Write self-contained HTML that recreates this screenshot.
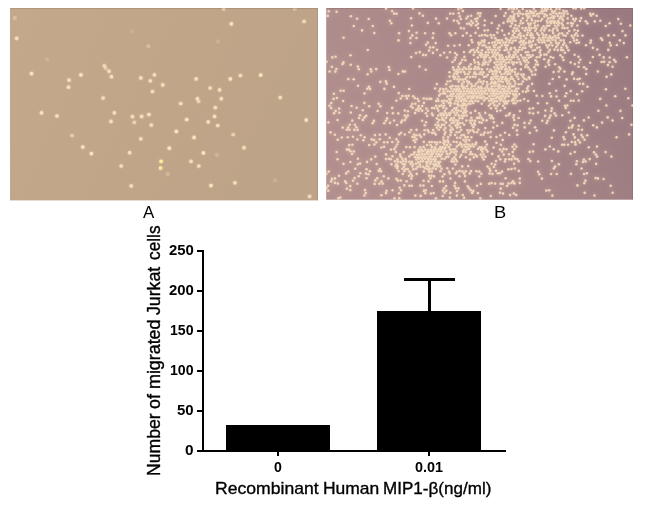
<!DOCTYPE html>
<html><head><meta charset="utf-8"><title>Figure</title>
<style>
html,body{margin:0;padding:0;background:#fff;}
body{width:645px;height:506px;position:relative;overflow:hidden;font-family:"Liberation Sans",Arial,sans-serif;color:#000;}
.abs{position:absolute;}
.w{position:absolute;white-space:nowrap;line-height:1;transform-origin:0 0;-webkit-text-stroke:0.35px #000;}
.b{font-weight:bold;-webkit-text-stroke:0;}
.p{-webkit-text-stroke:0;}
.k{position:absolute;background:#000;}
#yl{position:absolute;left:0;top:480px;width:300px;height:200px;transform-origin:0 0;transform:rotate(-90deg);}
</style></head><body>
<svg class="abs" style="left:0;top:0" width="645" height="506" viewBox="0 0 645 506">
<defs>
<linearGradient id="ga" x1="0" y1="0" x2="1" y2="0.3"><stop offset="0" stop-color="#c4a88c"/><stop offset="1" stop-color="#bda387"/></linearGradient>
<linearGradient id="gb" x1="0" y1="0.6" x2="1" y2="0.3"><stop offset="0" stop-color="#b28f8e"/><stop offset="0.5" stop-color="#a88688"/><stop offset="1" stop-color="#9a7a80"/></linearGradient>
<filter id="fa" x="-5%" y="-5%" width="110%" height="110%"><feGaussianBlur stdDeviation="0.7"/></filter>
<filter id="fb" x="-5%" y="-5%" width="110%" height="110%"><feGaussianBlur stdDeviation="0.75"/></filter>
<filter id="fh" x="-5%" y="-5%" width="110%" height="110%"><feGaussianBlur stdDeviation="2"/></filter>
<clipPath id="ca"><rect x="10" y="8" width="308" height="192"/></clipPath>
<clipPath id="cb"><rect x="326" y="8" width="307" height="192"/></clipPath>
</defs>
<rect x="10" y="8" width="308" height="192.4" fill="url(#ga)"/>
<g clip-path="url(#ca)"><g filter="url(#fa)"><circle cx="14.8" cy="18" r="2.2" fill="#f9e4bc" opacity="0.35"/><circle cx="16.7" cy="38.3" r="3" fill="#f9e4bc" opacity="0.14"/><circle cx="16.7" cy="38.3" r="1.85" fill="#f9e4bc" opacity="0.9"/><circle cx="31.5" cy="73.6" r="3" fill="#f9e4bc" opacity="0.16"/><circle cx="31.5" cy="73.6" r="1.85" fill="#f9e4bc" opacity="1"/><circle cx="47" cy="59.3" r="2.2" fill="#f9e4bc" opacity="0.2"/><circle cx="80.9" cy="74.8" r="3" fill="#f9e4bc" opacity="0.16"/><circle cx="80.9" cy="74.8" r="1.85" fill="#f9e4bc" opacity="1"/><circle cx="69" cy="80.1" r="3" fill="#f9e4bc" opacity="0.14"/><circle cx="69" cy="80.1" r="1.85" fill="#f9e4bc" opacity="0.9"/><circle cx="68.5" cy="87.2" r="3" fill="#f9e4bc" opacity="0.14"/><circle cx="68.5" cy="87.2" r="1.85" fill="#f9e4bc" opacity="0.9"/><circle cx="104.3" cy="65.8" r="3" fill="#f9e4bc" opacity="0.13"/><circle cx="104.3" cy="65.8" r="1.85" fill="#f9e4bc" opacity="0.8"/><circle cx="105.6" cy="68" r="3" fill="#f9e4bc" opacity="0.1"/><circle cx="105.6" cy="68" r="1.85" fill="#f9e4bc" opacity="0.6"/><circle cx="109" cy="71.2" r="3" fill="#f9e4bc" opacity="0.14"/><circle cx="109" cy="71.2" r="1.85" fill="#f9e4bc" opacity="0.9"/><circle cx="111.4" cy="76.7" r="3" fill="#f9e4bc" opacity="0.14"/><circle cx="111.4" cy="76.7" r="1.85" fill="#f9e4bc" opacity="0.9"/><circle cx="103.1" cy="98" r="3" fill="#f9e4bc" opacity="0.14"/><circle cx="103.1" cy="98" r="1.85" fill="#f9e4bc" opacity="0.9"/><circle cx="140.8" cy="77.9" r="3" fill="#f9e4bc" opacity="0.14"/><circle cx="140.8" cy="77.9" r="1.85" fill="#f9e4bc" opacity="0.9"/><circle cx="150.3" cy="80.8" r="3" fill="#f9e4bc" opacity="0.14"/><circle cx="150.3" cy="80.8" r="1.85" fill="#f9e4bc" opacity="0.9"/><circle cx="154.4" cy="74.8" r="3" fill="#f9e4bc" opacity="0.14"/><circle cx="154.4" cy="74.8" r="1.85" fill="#f9e4bc" opacity="0.9"/><circle cx="152.5" cy="91.5" r="3" fill="#f9e4bc" opacity="0.14"/><circle cx="152.5" cy="91.5" r="1.85" fill="#f9e4bc" opacity="0.9"/><circle cx="162.7" cy="84.9" r="3" fill="#f9e4bc" opacity="0.14"/><circle cx="162.7" cy="84.9" r="1.85" fill="#f9e4bc" opacity="0.9"/><circle cx="148.4" cy="46.2" r="2.2" fill="#f9e4bc" opacity="0.35"/><circle cx="131.7" cy="31.2" r="2.2" fill="#f9e4bc" opacity="0.15"/><circle cx="231.3" cy="23.8" r="3" fill="#f9e4bc" opacity="0.16"/><circle cx="231.3" cy="23.8" r="1.85" fill="#f9e4bc" opacity="1"/><circle cx="304.1" cy="21.4" r="3" fill="#f9e4bc" opacity="0.13"/><circle cx="304.1" cy="21.4" r="1.85" fill="#f9e4bc" opacity="0.8"/><circle cx="223.7" cy="8.7" r="3" fill="#f9e4bc" opacity="0.11"/><circle cx="223.7" cy="8.7" r="1.85" fill="#f9e4bc" opacity="0.7"/><circle cx="294.8" cy="8.7" r="2.2" fill="#f9e4bc" opacity="0.4"/><circle cx="196.2" cy="78.9" r="3" fill="#f9e4bc" opacity="0.14"/><circle cx="196.2" cy="78.9" r="1.85" fill="#f9e4bc" opacity="0.9"/><circle cx="210.1" cy="88" r="3" fill="#f9e4bc" opacity="0.14"/><circle cx="210.1" cy="88" r="1.85" fill="#f9e4bc" opacity="0.9"/><circle cx="219.6" cy="89.9" r="3" fill="#f9e4bc" opacity="0.14"/><circle cx="219.6" cy="89.9" r="1.85" fill="#f9e4bc" opacity="0.9"/><circle cx="230.3" cy="78.9" r="3" fill="#f9e4bc" opacity="0.16"/><circle cx="230.3" cy="78.9" r="1.85" fill="#f9e4bc" opacity="1"/><circle cx="240.4" cy="75.5" r="3" fill="#f9e4bc" opacity="0.14"/><circle cx="240.4" cy="75.5" r="1.85" fill="#f9e4bc" opacity="0.9"/><circle cx="260.7" cy="75.1" r="3" fill="#f9e4bc" opacity="0.16"/><circle cx="260.7" cy="75.1" r="1.85" fill="#f9e4bc" opacity="1"/><circle cx="280.2" cy="97.5" r="3" fill="#f9e4bc" opacity="0.14"/><circle cx="280.2" cy="97.5" r="1.85" fill="#f9e4bc" opacity="0.9"/><circle cx="221.3" cy="98.7" r="3" fill="#f9e4bc" opacity="0.14"/><circle cx="221.3" cy="98.7" r="1.85" fill="#f9e4bc" opacity="0.9"/><circle cx="197.4" cy="98.7" r="3" fill="#f9e4bc" opacity="0.14"/><circle cx="197.4" cy="98.7" r="1.85" fill="#f9e4bc" opacity="0.9"/><circle cx="198.6" cy="101.5" r="3" fill="#f9e4bc" opacity="0.11"/><circle cx="198.6" cy="101.5" r="1.85" fill="#f9e4bc" opacity="0.7"/><circle cx="180.7" cy="103.5" r="3" fill="#f9e4bc" opacity="0.14"/><circle cx="180.7" cy="103.5" r="1.85" fill="#f9e4bc" opacity="0.9"/><circle cx="217.7" cy="41.4" r="2.2" fill="#f9e4bc" opacity="0.2"/><circle cx="41.5" cy="112.8" r="3" fill="#f9e4bc" opacity="0.16"/><circle cx="41.5" cy="112.8" r="1.85" fill="#f9e4bc" opacity="1"/><circle cx="57" cy="115.9" r="3" fill="#f9e4bc" opacity="0.14"/><circle cx="57" cy="115.9" r="1.85" fill="#f9e4bc" opacity="0.9"/><circle cx="72.1" cy="135.5" r="3" fill="#f9e4bc" opacity="0.1"/><circle cx="72.1" cy="135.5" r="1.85" fill="#f9e4bc" opacity="0.6"/><circle cx="82.8" cy="147" r="3" fill="#f9e4bc" opacity="0.16"/><circle cx="82.8" cy="147" r="1.85" fill="#f9e4bc" opacity="1"/><circle cx="91.4" cy="153.6" r="3" fill="#f9e4bc" opacity="0.16"/><circle cx="91.4" cy="153.6" r="1.85" fill="#f9e4bc" opacity="1"/><circle cx="114.3" cy="112.8" r="3" fill="#f9e4bc" opacity="0.14"/><circle cx="114.3" cy="112.8" r="1.85" fill="#f9e4bc" opacity="0.9"/><circle cx="111" cy="121.4" r="3" fill="#f9e4bc" opacity="0.14"/><circle cx="111" cy="121.4" r="1.85" fill="#f9e4bc" opacity="0.9"/><circle cx="132.4" cy="116.6" r="3" fill="#f9e4bc" opacity="0.14"/><circle cx="132.4" cy="116.6" r="1.85" fill="#f9e4bc" opacity="0.9"/><circle cx="134.3" cy="122.4" r="3" fill="#f9e4bc" opacity="0.11"/><circle cx="134.3" cy="122.4" r="1.85" fill="#f9e4bc" opacity="0.7"/><circle cx="141.7" cy="116.4" r="3" fill="#f9e4bc" opacity="0.14"/><circle cx="141.7" cy="116.4" r="1.85" fill="#f9e4bc" opacity="0.9"/><circle cx="148.9" cy="114.5" r="3" fill="#f9e4bc" opacity="0.16"/><circle cx="148.9" cy="114.5" r="1.85" fill="#f9e4bc" opacity="1"/><circle cx="151.3" cy="125" r="3" fill="#f9e4bc" opacity="0.14"/><circle cx="151.3" cy="125" r="1.85" fill="#f9e4bc" opacity="0.9"/><circle cx="140.8" cy="138.8" r="3" fill="#f9e4bc" opacity="0.14"/><circle cx="140.8" cy="138.8" r="1.85" fill="#f9e4bc" opacity="0.9"/><circle cx="129.6" cy="152.7" r="3" fill="#f9e4bc" opacity="0.14"/><circle cx="129.6" cy="152.7" r="1.85" fill="#f9e4bc" opacity="0.9"/><circle cx="121.2" cy="166" r="3" fill="#f9e4bc" opacity="0.14"/><circle cx="121.2" cy="166" r="1.85" fill="#f9e4bc" opacity="0.9"/><circle cx="131.2" cy="185.9" r="3" fill="#f9e4bc" opacity="0.14"/><circle cx="131.2" cy="185.9" r="1.85" fill="#f9e4bc" opacity="0.9"/><circle cx="161.1" cy="161.3" r="3" fill="#ffe9a0" opacity="0.16"/><circle cx="161.1" cy="161.3" r="1.85" fill="#ffe9a0" opacity="1"/><circle cx="160.6" cy="168" r="3" fill="#ffe9a0" opacity="0.16"/><circle cx="160.6" cy="168" r="1.85" fill="#ffe9a0" opacity="1"/><circle cx="215.3" cy="107.6" r="3" fill="#f9e4bc" opacity="0.14"/><circle cx="215.3" cy="107.6" r="1.85" fill="#f9e4bc" opacity="0.9"/><circle cx="214.6" cy="116.4" r="3" fill="#f9e4bc" opacity="0.14"/><circle cx="214.6" cy="116.4" r="1.85" fill="#f9e4bc" opacity="0.9"/><circle cx="208.2" cy="121.9" r="3" fill="#f9e4bc" opacity="0.14"/><circle cx="208.2" cy="121.9" r="1.85" fill="#f9e4bc" opacity="0.9"/><circle cx="217.7" cy="125.5" r="3" fill="#f9e4bc" opacity="0.14"/><circle cx="217.7" cy="125.5" r="1.85" fill="#f9e4bc" opacity="0.9"/><circle cx="186.7" cy="119.5" r="3" fill="#f9e4bc" opacity="0.16"/><circle cx="186.7" cy="119.5" r="1.85" fill="#f9e4bc" opacity="1"/><circle cx="176.4" cy="131.4" r="3" fill="#f9e4bc" opacity="0.16"/><circle cx="176.4" cy="131.4" r="1.85" fill="#f9e4bc" opacity="1"/><circle cx="194.1" cy="137.4" r="3" fill="#f9e4bc" opacity="0.16"/><circle cx="194.1" cy="137.4" r="1.85" fill="#f9e4bc" opacity="1"/><circle cx="169.3" cy="148.2" r="3" fill="#f9e4bc" opacity="0.16"/><circle cx="169.3" cy="148.2" r="1.85" fill="#f9e4bc" opacity="1"/><circle cx="203.4" cy="152.9" r="3" fill="#f9e4bc" opacity="0.16"/><circle cx="203.4" cy="152.9" r="1.85" fill="#f9e4bc" opacity="1"/><circle cx="191" cy="161.3" r="3" fill="#f9e4bc" opacity="0.14"/><circle cx="191" cy="161.3" r="1.85" fill="#f9e4bc" opacity="0.9"/><circle cx="198.8" cy="166" r="3" fill="#f9e4bc" opacity="0.14"/><circle cx="198.8" cy="166" r="1.85" fill="#f9e4bc" opacity="0.9"/><circle cx="233.2" cy="134.5" r="3" fill="#f9e4bc" opacity="0.11"/><circle cx="233.2" cy="134.5" r="1.85" fill="#f9e4bc" opacity="0.7"/><circle cx="244" cy="147.7" r="3" fill="#f9e4bc" opacity="0.14"/><circle cx="244" cy="147.7" r="1.85" fill="#f9e4bc" opacity="0.9"/><circle cx="211" cy="185.6" r="3" fill="#f9e4bc" opacity="0.16"/><circle cx="211" cy="185.6" r="1.85" fill="#f9e4bc" opacity="1"/><circle cx="234.9" cy="182.8" r="3" fill="#f9e4bc" opacity="0.14"/><circle cx="234.9" cy="182.8" r="1.85" fill="#f9e4bc" opacity="0.9"/><circle cx="306.2" cy="120" r="3" fill="#f9e4bc" opacity="0.16"/><circle cx="306.2" cy="120" r="1.85" fill="#f9e4bc" opacity="1"/><circle cx="309.6" cy="196.4" r="3" fill="#f9e4bc" opacity="0.13"/><circle cx="309.6" cy="196.4" r="1.85" fill="#f9e4bc" opacity="0.8"/><circle cx="275" cy="180.4" r="2.2" fill="#f9e4bc" opacity="0.2"/><circle cx="217" cy="154.8" r="2.2" fill="#f9e4bc" opacity="0.25"/><circle cx="167.6" cy="174" r="2.2" fill="#f9e4bc" opacity="0.3"/></g></g>
<rect x="326.2" y="8" width="306.8" height="191.7" fill="url(#gb)"/>
<rect x="10" y="8" width="308" height="1" fill="#000" opacity="0.1"/><rect x="326.2" y="8" width="306.8" height="1" fill="#000" opacity="0.1"/><rect x="317" y="8" width="1" height="192.4" fill="#667" opacity="0.18"/><rect x="632" y="8" width="1" height="191.7" fill="#000" opacity="0.08"/>
<g clip-path="url(#cb)"><use href="#bd" filter="url(#fh)" opacity="0.55"/><g id="bd" filter="url(#fb)" fill="#f9e0c0" opacity="0.88"><circle cx="386" cy="8.6" r="1.3"/><circle cx="413.1" cy="8.5" r="1.3"/><circle cx="458.3" cy="9.1" r="1.3"/><circle cx="461.2" cy="8.3" r="1.3"/><circle cx="500.6" cy="9" r="1.3"/><circle cx="508.7" cy="9" r="1.3"/><circle cx="511.6" cy="8.4" r="1.3"/><circle cx="513.9" cy="9.1" r="1.3"/><circle cx="516.9" cy="8.7" r="1.3"/><circle cx="522.7" cy="8.9" r="1.3"/><circle cx="533.9" cy="8.6" r="1.3"/><circle cx="542" cy="8.5" r="1.3"/><circle cx="545.2" cy="8.9" r="1.3"/><circle cx="547.5" cy="8.7" r="1.3"/><circle cx="550.9" cy="9.3" r="1.3"/><circle cx="556.5" cy="9" r="1.3"/><circle cx="559.6" cy="9.1" r="1.3"/><circle cx="573.3" cy="8.3" r="1.3"/><circle cx="575.7" cy="8.4" r="1.3"/><circle cx="581.1" cy="8.4" r="1.3"/><circle cx="584.2" cy="8.3" r="1.3"/><circle cx="328.7" cy="11.3" r="1.3"/><circle cx="336.6" cy="11.8" r="1.3"/><circle cx="392.1" cy="11" r="1.3"/><circle cx="462.9" cy="11" r="1.3"/><circle cx="512.5" cy="11.7" r="1.3"/><circle cx="519.1" cy="11.2" r="1.3"/><circle cx="526.7" cy="11" r="1.3"/><circle cx="529.9" cy="11" r="1.3"/><circle cx="532.2" cy="11.7" r="1.3"/><circle cx="535.4" cy="11.3" r="1.3"/><circle cx="541.5" cy="11.2" r="1.3"/><circle cx="543.8" cy="10.7" r="1.3"/><circle cx="546.3" cy="10.7" r="1.3"/><circle cx="552.2" cy="11.5" r="1.3"/><circle cx="554.8" cy="11.2" r="1.3"/><circle cx="563.5" cy="10.9" r="1.3"/><circle cx="566.5" cy="11.2" r="1.3"/><circle cx="394.1" cy="13.6" r="1.3"/><circle cx="396.6" cy="13.8" r="1.3"/><circle cx="419.5" cy="13.4" r="1.3"/><circle cx="450.2" cy="13.6" r="1.3"/><circle cx="453.3" cy="13.8" r="1.3"/><circle cx="458.8" cy="13.2" r="1.3"/><circle cx="478" cy="13.4" r="1.3"/><circle cx="480.4" cy="13.2" r="1.3"/><circle cx="505.7" cy="13.1" r="1.3"/><circle cx="514.4" cy="14.1" r="1.3"/><circle cx="517.6" cy="13.6" r="1.3"/><circle cx="520.4" cy="13.5" r="1.3"/><circle cx="523" cy="14.2" r="1.3"/><circle cx="526" cy="13.9" r="1.3"/><circle cx="528.3" cy="13.5" r="1.3"/><circle cx="530.8" cy="13.2" r="1.3"/><circle cx="533.7" cy="13.3" r="1.3"/><circle cx="537.2" cy="14.1" r="1.3"/><circle cx="539.4" cy="13.4" r="1.3"/><circle cx="542.4" cy="13.3" r="1.3"/><circle cx="544.9" cy="14.2" r="1.3"/><circle cx="550.5" cy="14.2" r="1.3"/><circle cx="553.4" cy="13.1" r="1.3"/><circle cx="556.4" cy="13.7" r="1.3"/><circle cx="559.2" cy="13.1" r="1.3"/><circle cx="561.5" cy="13.5" r="1.3"/><circle cx="564.3" cy="13.4" r="1.3"/><circle cx="567.7" cy="13.7" r="1.3"/><circle cx="590.2" cy="13.8" r="1.3"/><circle cx="593.2" cy="14.1" r="1.3"/><circle cx="327.8" cy="15.9" r="1.3"/><circle cx="350.9" cy="16.3" r="1.3"/><circle cx="422.9" cy="15.8" r="1.3"/><circle cx="459.8" cy="16.4" r="1.3"/><circle cx="467.9" cy="16.6" r="1.3"/><circle cx="471.1" cy="15.7" r="1.3"/><circle cx="479.8" cy="16.1" r="1.3"/><circle cx="495.7" cy="16.1" r="1.3"/><circle cx="504.4" cy="15.9" r="1.3"/><circle cx="510.5" cy="16.4" r="1.3"/><circle cx="513.5" cy="16.3" r="1.3"/><circle cx="518.5" cy="16" r="1.3"/><circle cx="526.9" cy="15.8" r="1.3"/><circle cx="529.4" cy="16.4" r="1.3"/><circle cx="533.1" cy="15.8" r="1.3"/><circle cx="535.4" cy="15.7" r="1.3"/><circle cx="538.7" cy="16.5" r="1.3"/><circle cx="544.3" cy="16.6" r="1.3"/><circle cx="546.8" cy="15.6" r="1.3"/><circle cx="552.5" cy="16.2" r="1.3"/><circle cx="554.5" cy="16.5" r="1.3"/><circle cx="557.8" cy="15.9" r="1.3"/><circle cx="560.9" cy="16.6" r="1.3"/><circle cx="563.6" cy="15.9" r="1.3"/><circle cx="571.4" cy="15.8" r="1.3"/><circle cx="591.1" cy="15.6" r="1.3"/><circle cx="596.7" cy="15.8" r="1.3"/><circle cx="357.1" cy="18.7" r="1.3"/><circle cx="368.7" cy="19" r="1.3"/><circle cx="411.1" cy="18.2" r="1.3"/><circle cx="436" cy="18.6" r="1.3"/><circle cx="447" cy="18.5" r="1.3"/><circle cx="460.9" cy="19" r="1.3"/><circle cx="466.3" cy="18.5" r="1.3"/><circle cx="475.4" cy="19" r="1.3"/><circle cx="477.5" cy="18.3" r="1.3"/><circle cx="508.5" cy="18.8" r="1.3"/><circle cx="512.1" cy="18.5" r="1.3"/><circle cx="514.1" cy="18.4" r="1.3"/><circle cx="522.7" cy="18.2" r="1.3"/><circle cx="527.9" cy="18" r="1.3"/><circle cx="531.6" cy="18.9" r="1.3"/><circle cx="542.1" cy="19" r="1.3"/><circle cx="548.2" cy="18.4" r="1.3"/><circle cx="550.6" cy="18.1" r="1.3"/><circle cx="553.4" cy="18.3" r="1.3"/><circle cx="559.7" cy="18.2" r="1.3"/><circle cx="562.4" cy="18.9" r="1.3"/><circle cx="567.6" cy="18.4" r="1.3"/><circle cx="573.1" cy="18.9" r="1.3"/><circle cx="575.9" cy="18.8" r="1.3"/><circle cx="581.1" cy="18" r="1.3"/><circle cx="618.3" cy="19" r="1.3"/><circle cx="389.9" cy="20.7" r="1.3"/><circle cx="453.9" cy="20.6" r="1.3"/><circle cx="457.4" cy="21" r="1.3"/><circle cx="471.3" cy="21.1" r="1.3"/><circle cx="476.6" cy="21.3" r="1.3"/><circle cx="484.8" cy="20.5" r="1.3"/><circle cx="507.7" cy="21.4" r="1.3"/><circle cx="510.3" cy="21.1" r="1.3"/><circle cx="512.9" cy="20.5" r="1.3"/><circle cx="515.5" cy="21" r="1.3"/><circle cx="520.9" cy="20.7" r="1.3"/><circle cx="526.8" cy="20.6" r="1.3"/><circle cx="532.1" cy="20.5" r="1.3"/><circle cx="535.5" cy="21.1" r="1.3"/><circle cx="537.8" cy="21.1" r="1.3"/><circle cx="540.8" cy="20.7" r="1.3"/><circle cx="546.7" cy="20.8" r="1.3"/><circle cx="549.8" cy="21.5" r="1.3"/><circle cx="551.9" cy="21.2" r="1.3"/><circle cx="554.5" cy="21.4" r="1.3"/><circle cx="558.2" cy="20.8" r="1.3"/><circle cx="563" cy="20.4" r="1.3"/><circle cx="574.7" cy="20.8" r="1.3"/><circle cx="580" cy="20.9" r="1.3"/><circle cx="585.8" cy="21.3" r="1.3"/><circle cx="594.7" cy="21.4" r="1.3"/><circle cx="600.3" cy="20.8" r="1.3"/><circle cx="391.3" cy="23.3" r="1.3"/><circle cx="427.8" cy="22.9" r="1.3"/><circle cx="438.8" cy="23.2" r="1.3"/><circle cx="458.9" cy="23.3" r="1.3"/><circle cx="467.1" cy="23.8" r="1.3"/><circle cx="469.4" cy="23.6" r="1.3"/><circle cx="472.8" cy="23.1" r="1.3"/><circle cx="478" cy="23.8" r="1.3"/><circle cx="491.7" cy="23" r="1.3"/><circle cx="503.5" cy="22.9" r="1.3"/><circle cx="512" cy="23.4" r="1.3"/><circle cx="520.5" cy="23.5" r="1.3"/><circle cx="523.1" cy="23.1" r="1.3"/><circle cx="528.2" cy="23.6" r="1.3"/><circle cx="530.8" cy="23.6" r="1.3"/><circle cx="534.4" cy="23.1" r="1.3"/><circle cx="547.5" cy="22.8" r="1.3"/><circle cx="550.9" cy="23.3" r="1.3"/><circle cx="554" cy="22.9" r="1.3"/><circle cx="556.6" cy="22.8" r="1.3"/><circle cx="559" cy="22.9" r="1.3"/><circle cx="561.7" cy="23.4" r="1.3"/><circle cx="567.7" cy="23.3" r="1.3"/><circle cx="570.9" cy="23.1" r="1.3"/><circle cx="572.8" cy="23.5" r="1.3"/><circle cx="587.4" cy="23.4" r="1.3"/><circle cx="609.6" cy="23.2" r="1.3"/><circle cx="620.9" cy="23.8" r="1.3"/><circle cx="353.8" cy="26" r="1.3"/><circle cx="372.8" cy="26" r="1.3"/><circle cx="411.9" cy="25.5" r="1.3"/><circle cx="471.1" cy="25.3" r="1.3"/><circle cx="476.1" cy="25.3" r="1.3"/><circle cx="484.5" cy="25.3" r="1.3"/><circle cx="499.1" cy="25.6" r="1.3"/><circle cx="510.6" cy="26.2" r="1.3"/><circle cx="515.5" cy="25.3" r="1.3"/><circle cx="519" cy="26.1" r="1.3"/><circle cx="529.4" cy="25.3" r="1.3"/><circle cx="535.2" cy="25.7" r="1.3"/><circle cx="537.9" cy="25.5" r="1.3"/><circle cx="543.6" cy="26.3" r="1.3"/><circle cx="547" cy="25.9" r="1.3"/><circle cx="549.3" cy="25.7" r="1.3"/><circle cx="555.2" cy="25.8" r="1.3"/><circle cx="558.2" cy="25.3" r="1.3"/><circle cx="562.9" cy="25.4" r="1.3"/><circle cx="571.8" cy="25.8" r="1.3"/><circle cx="577.4" cy="25.6" r="1.3"/><circle cx="605.7" cy="26" r="1.3"/><circle cx="630.3" cy="25.5" r="1.3"/><circle cx="460.9" cy="28.1" r="1.3"/><circle cx="463.9" cy="28.5" r="1.3"/><circle cx="478.1" cy="28.1" r="1.3"/><circle cx="497.8" cy="28.6" r="1.3"/><circle cx="514.2" cy="28.3" r="1.3"/><circle cx="517.1" cy="28.5" r="1.3"/><circle cx="522.5" cy="28.1" r="1.3"/><circle cx="525.7" cy="28.1" r="1.3"/><circle cx="528.9" cy="27.8" r="1.3"/><circle cx="531.5" cy="28.1" r="1.3"/><circle cx="534.5" cy="27.7" r="1.3"/><circle cx="536.4" cy="28.5" r="1.3"/><circle cx="542" cy="28.3" r="1.3"/><circle cx="545.4" cy="28.2" r="1.3"/><circle cx="553.5" cy="28.7" r="1.3"/><circle cx="556.6" cy="28.1" r="1.3"/><circle cx="562.5" cy="28" r="1.3"/><circle cx="564.6" cy="28.1" r="1.3"/><circle cx="567.5" cy="28.1" r="1.3"/><circle cx="362" cy="30.4" r="1.3"/><circle cx="408.9" cy="31.1" r="1.3"/><circle cx="484.6" cy="30.6" r="1.3"/><circle cx="487.8" cy="30.2" r="1.3"/><circle cx="502.2" cy="30.6" r="1.3"/><circle cx="512.9" cy="31.1" r="1.3"/><circle cx="516" cy="30.8" r="1.3"/><circle cx="518.7" cy="30.8" r="1.3"/><circle cx="524.7" cy="30.6" r="1.3"/><circle cx="527.4" cy="30.1" r="1.3"/><circle cx="529.9" cy="30.4" r="1.3"/><circle cx="535.4" cy="30.7" r="1.3"/><circle cx="540.9" cy="30.5" r="1.3"/><circle cx="544.2" cy="30.4" r="1.3"/><circle cx="549.4" cy="30.4" r="1.3"/><circle cx="552.7" cy="30.8" r="1.3"/><circle cx="557.6" cy="30.4" r="1.3"/><circle cx="569.2" cy="31" r="1.3"/><circle cx="574.4" cy="30.1" r="1.3"/><circle cx="577.9" cy="30.7" r="1.3"/><circle cx="622.5" cy="31.1" r="1.3"/><circle cx="374.3" cy="33.1" r="1.3"/><circle cx="399.1" cy="33.3" r="1.3"/><circle cx="416.6" cy="32.8" r="1.3"/><circle cx="425.1" cy="33.3" r="1.3"/><circle cx="433.3" cy="33.3" r="1.3"/><circle cx="449.5" cy="33.2" r="1.3"/><circle cx="455.4" cy="33.3" r="1.3"/><circle cx="466.7" cy="33.1" r="1.3"/><circle cx="475.5" cy="32.9" r="1.3"/><circle cx="497.4" cy="32.6" r="1.3"/><circle cx="508.9" cy="33.6" r="1.3"/><circle cx="514.2" cy="33" r="1.3"/><circle cx="520.2" cy="33.2" r="1.3"/><circle cx="527.9" cy="32.8" r="1.3"/><circle cx="531.3" cy="33.4" r="1.3"/><circle cx="537.2" cy="33.4" r="1.3"/><circle cx="542.2" cy="33.4" r="1.3"/><circle cx="553.1" cy="33.1" r="1.3"/><circle cx="559.5" cy="33.5" r="1.3"/><circle cx="562.1" cy="33.2" r="1.3"/><circle cx="567.3" cy="33.3" r="1.3"/><circle cx="576.3" cy="33.3" r="1.3"/><circle cx="412.3" cy="35.4" r="1.3"/><circle cx="451.1" cy="35.3" r="1.3"/><circle cx="462.9" cy="35.7" r="1.3"/><circle cx="470.6" cy="35.8" r="1.3"/><circle cx="479.5" cy="35.8" r="1.3"/><circle cx="482" cy="35.2" r="1.3"/><circle cx="485" cy="35.1" r="1.3"/><circle cx="487.4" cy="35.7" r="1.3"/><circle cx="490.8" cy="35.1" r="1.3"/><circle cx="493.9" cy="35.2" r="1.3"/><circle cx="504.5" cy="35" r="1.3"/><circle cx="512.9" cy="35.3" r="1.3"/><circle cx="518.7" cy="35.1" r="1.3"/><circle cx="520.9" cy="35.7" r="1.3"/><circle cx="523.8" cy="35.9" r="1.3"/><circle cx="526.9" cy="35.1" r="1.3"/><circle cx="530.2" cy="35.3" r="1.3"/><circle cx="532.6" cy="35.3" r="1.3"/><circle cx="538.7" cy="35" r="1.3"/><circle cx="543.5" cy="35.4" r="1.3"/><circle cx="546.3" cy="35.1" r="1.3"/><circle cx="549.9" cy="36" r="1.3"/><circle cx="554.8" cy="35.9" r="1.3"/><circle cx="558" cy="35.2" r="1.3"/><circle cx="563.7" cy="35.3" r="1.3"/><circle cx="565.7" cy="35.8" r="1.3"/><circle cx="571.7" cy="35.9" r="1.3"/><circle cx="574.7" cy="35.1" r="1.3"/><circle cx="577.7" cy="35.7" r="1.3"/><circle cx="582.5" cy="35.6" r="1.3"/><circle cx="608.5" cy="35.4" r="1.3"/><circle cx="614.1" cy="35.3" r="1.3"/><circle cx="625.5" cy="35.4" r="1.3"/><circle cx="343.6" cy="37.8" r="1.3"/><circle cx="410.4" cy="38.1" r="1.3"/><circle cx="416.5" cy="38" r="1.3"/><circle cx="432.8" cy="37.9" r="1.3"/><circle cx="491.7" cy="37.7" r="1.3"/><circle cx="495.3" cy="38.2" r="1.3"/><circle cx="506" cy="38.4" r="1.3"/><circle cx="511.5" cy="38" r="1.3"/><circle cx="514.4" cy="37.4" r="1.3"/><circle cx="517.2" cy="37.4" r="1.3"/><circle cx="520.5" cy="38.2" r="1.3"/><circle cx="525.9" cy="38.3" r="1.3"/><circle cx="531.4" cy="37.6" r="1.3"/><circle cx="533.8" cy="37.9" r="1.3"/><circle cx="539.3" cy="37.9" r="1.3"/><circle cx="542.9" cy="37.7" r="1.3"/><circle cx="545.4" cy="37.5" r="1.3"/><circle cx="548.5" cy="37.9" r="1.3"/><circle cx="550.8" cy="37.9" r="1.3"/><circle cx="553.2" cy="37.5" r="1.3"/><circle cx="556.3" cy="37.7" r="1.3"/><circle cx="558.7" cy="37.9" r="1.3"/><circle cx="573.4" cy="37.9" r="1.3"/><circle cx="601" cy="38.3" r="1.3"/><circle cx="398.5" cy="40.4" r="1.3"/><circle cx="471.5" cy="40.1" r="1.3"/><circle cx="482.1" cy="40.8" r="1.3"/><circle cx="484.5" cy="40.4" r="1.3"/><circle cx="496.7" cy="40.3" r="1.3"/><circle cx="499.2" cy="40.2" r="1.3"/><circle cx="501.9" cy="40.2" r="1.3"/><circle cx="507.4" cy="39.9" r="1.3"/><circle cx="510.1" cy="40.4" r="1.3"/><circle cx="513.4" cy="40.8" r="1.3"/><circle cx="515.7" cy="40.5" r="1.3"/><circle cx="521.4" cy="40.7" r="1.3"/><circle cx="524" cy="40.8" r="1.3"/><circle cx="529.4" cy="40.8" r="1.3"/><circle cx="533" cy="40.9" r="1.3"/><circle cx="537.8" cy="40.1" r="1.3"/><circle cx="541" cy="40" r="1.3"/><circle cx="543.9" cy="40.4" r="1.3"/><circle cx="547.1" cy="40.5" r="1.3"/><circle cx="549.3" cy="40.6" r="1.3"/><circle cx="552.4" cy="39.8" r="1.3"/><circle cx="555.4" cy="40.4" r="1.3"/><circle cx="560.6" cy="40.4" r="1.3"/><circle cx="563.6" cy="40.4" r="1.3"/><circle cx="574.2" cy="40.6" r="1.3"/><circle cx="577" cy="40" r="1.3"/><circle cx="590.9" cy="40.6" r="1.3"/><circle cx="602.3" cy="39.9" r="1.3"/><circle cx="619.8" cy="40.4" r="1.3"/><circle cx="410.4" cy="43.1" r="1.3"/><circle cx="427.8" cy="42.6" r="1.3"/><circle cx="435.7" cy="43.1" r="1.3"/><circle cx="472.3" cy="42.3" r="1.3"/><circle cx="478.4" cy="42.8" r="1.3"/><circle cx="480.5" cy="42.9" r="1.3"/><circle cx="484" cy="42.3" r="1.3"/><circle cx="488.9" cy="43" r="1.3"/><circle cx="492.2" cy="42.8" r="1.3"/><circle cx="494.7" cy="42.3" r="1.3"/><circle cx="498" cy="42.6" r="1.3"/><circle cx="500" cy="42.8" r="1.3"/><circle cx="503.2" cy="42.5" r="1.3"/><circle cx="505.8" cy="42.4" r="1.3"/><circle cx="509" cy="42.5" r="1.3"/><circle cx="512" cy="43" r="1.3"/><circle cx="519.8" cy="42.2" r="1.3"/><circle cx="523" cy="42.6" r="1.3"/><circle cx="525.8" cy="43" r="1.3"/><circle cx="528.8" cy="42.6" r="1.3"/><circle cx="530.8" cy="42.3" r="1.3"/><circle cx="539.1" cy="42.2" r="1.3"/><circle cx="542.1" cy="42.5" r="1.3"/><circle cx="544.7" cy="42.5" r="1.3"/><circle cx="551.2" cy="42.8" r="1.3"/><circle cx="556.3" cy="42.9" r="1.3"/><circle cx="558.7" cy="43.1" r="1.3"/><circle cx="564.3" cy="43.1" r="1.3"/><circle cx="570.1" cy="42.3" r="1.3"/><circle cx="576.5" cy="43" r="1.3"/><circle cx="579" cy="42.6" r="1.3"/><circle cx="590.5" cy="42.7" r="1.3"/><circle cx="609.8" cy="42.7" r="1.3"/><circle cx="623.8" cy="43.1" r="1.3"/><circle cx="426" cy="44.8" r="1.3"/><circle cx="448.1" cy="45.7" r="1.3"/><circle cx="454.4" cy="45.7" r="1.3"/><circle cx="459.8" cy="45.1" r="1.3"/><circle cx="468.7" cy="45.3" r="1.3"/><circle cx="479.1" cy="44.8" r="1.3"/><circle cx="482.5" cy="45.5" r="1.3"/><circle cx="484.7" cy="45.3" r="1.3"/><circle cx="493.7" cy="45.5" r="1.3"/><circle cx="496" cy="44.8" r="1.3"/><circle cx="501.7" cy="45.2" r="1.3"/><circle cx="505" cy="44.9" r="1.3"/><circle cx="507.5" cy="45.3" r="1.3"/><circle cx="521.4" cy="44.8" r="1.3"/><circle cx="524.3" cy="44.7" r="1.3"/><circle cx="529.7" cy="45.7" r="1.3"/><circle cx="532.1" cy="45.1" r="1.3"/><circle cx="535.6" cy="44.6" r="1.3"/><circle cx="546.4" cy="45.3" r="1.3"/><circle cx="549.3" cy="45" r="1.3"/><circle cx="552.4" cy="45.5" r="1.3"/><circle cx="557.6" cy="45.1" r="1.3"/><circle cx="563.1" cy="44.7" r="1.3"/><circle cx="566.2" cy="45.7" r="1.3"/><circle cx="586" cy="45.3" r="1.3"/><circle cx="610.7" cy="45.4" r="1.3"/><circle cx="616.8" cy="45" r="1.3"/><circle cx="430.1" cy="47.5" r="1.3"/><circle cx="433.3" cy="47.3" r="1.3"/><circle cx="477.9" cy="47.9" r="1.3"/><circle cx="486.5" cy="47.2" r="1.3"/><circle cx="489.5" cy="47.2" r="1.3"/><circle cx="494.5" cy="47.3" r="1.3"/><circle cx="498" cy="47.7" r="1.3"/><circle cx="499.9" cy="47.2" r="1.3"/><circle cx="506.1" cy="47.4" r="1.3"/><circle cx="511.2" cy="48" r="1.3"/><circle cx="514.6" cy="47.9" r="1.3"/><circle cx="519.8" cy="47.2" r="1.3"/><circle cx="523.2" cy="47.9" r="1.3"/><circle cx="525.3" cy="47.9" r="1.3"/><circle cx="531.2" cy="47.2" r="1.3"/><circle cx="537.2" cy="47.7" r="1.3"/><circle cx="539.4" cy="47.3" r="1.3"/><circle cx="547.6" cy="47.4" r="1.3"/><circle cx="556.2" cy="47.1" r="1.3"/><circle cx="561.5" cy="47.6" r="1.3"/><circle cx="567.2" cy="47.8" r="1.3"/><circle cx="592.9" cy="47.9" r="1.3"/><circle cx="367.8" cy="50" r="1.3"/><circle cx="429" cy="50.5" r="1.3"/><circle cx="437" cy="49.8" r="1.3"/><circle cx="471.3" cy="50.4" r="1.3"/><circle cx="473.4" cy="49.7" r="1.3"/><circle cx="477" cy="50.2" r="1.3"/><circle cx="482" cy="50.3" r="1.3"/><circle cx="488" cy="49.8" r="1.3"/><circle cx="490.5" cy="49.5" r="1.3"/><circle cx="493.2" cy="50" r="1.3"/><circle cx="495.9" cy="50" r="1.3"/><circle cx="499.5" cy="50.1" r="1.3"/><circle cx="504.7" cy="50.3" r="1.3"/><circle cx="507" cy="49.6" r="1.3"/><circle cx="510.5" cy="49.6" r="1.3"/><circle cx="515.8" cy="50.1" r="1.3"/><circle cx="518.8" cy="50.1" r="1.3"/><circle cx="521.7" cy="49.8" r="1.3"/><circle cx="532.9" cy="50.5" r="1.3"/><circle cx="535.2" cy="50" r="1.3"/><circle cx="540.5" cy="50" r="1.3"/><circle cx="549.9" cy="49.7" r="1.3"/><circle cx="554.5" cy="49.6" r="1.3"/><circle cx="557.8" cy="50.1" r="1.3"/><circle cx="561.1" cy="49.9" r="1.3"/><circle cx="563" cy="50.3" r="1.3"/><circle cx="568.5" cy="50.3" r="1.3"/><circle cx="597.3" cy="49.5" r="1.3"/><circle cx="608.3" cy="49.9" r="1.3"/><circle cx="416" cy="53" r="1.3"/><circle cx="419.7" cy="52.1" r="1.3"/><circle cx="433" cy="52.9" r="1.3"/><circle cx="444.1" cy="52.8" r="1.3"/><circle cx="450" cy="52.2" r="1.3"/><circle cx="455.1" cy="53" r="1.3"/><circle cx="464" cy="52" r="1.3"/><circle cx="469.8" cy="52.1" r="1.3"/><circle cx="474.8" cy="52.3" r="1.3"/><circle cx="478.5" cy="52.3" r="1.3"/><circle cx="481.3" cy="52.9" r="1.3"/><circle cx="486" cy="52.2" r="1.3"/><circle cx="488.7" cy="52.5" r="1.3"/><circle cx="492.1" cy="52.3" r="1.3"/><circle cx="495" cy="52.6" r="1.3"/><circle cx="497.7" cy="52.7" r="1.3"/><circle cx="508.6" cy="52.4" r="1.3"/><circle cx="514.3" cy="52.3" r="1.3"/><circle cx="517.7" cy="51.9" r="1.3"/><circle cx="525.7" cy="52.3" r="1.3"/><circle cx="528.1" cy="52" r="1.3"/><circle cx="539.8" cy="52.3" r="1.3"/><circle cx="548.5" cy="51.9" r="1.3"/><circle cx="564.9" cy="52.7" r="1.3"/><circle cx="350.5" cy="55.2" r="1.3"/><circle cx="423.1" cy="54.9" r="1.3"/><circle cx="425.8" cy="55.1" r="1.3"/><circle cx="440.3" cy="55.3" r="1.3"/><circle cx="456.9" cy="54.7" r="1.3"/><circle cx="473.7" cy="55" r="1.3"/><circle cx="479.9" cy="55.1" r="1.3"/><circle cx="482.4" cy="54.7" r="1.3"/><circle cx="485.3" cy="54.7" r="1.3"/><circle cx="487.8" cy="55.3" r="1.3"/><circle cx="493.5" cy="54.8" r="1.3"/><circle cx="496.6" cy="54.8" r="1.3"/><circle cx="499.4" cy="54.8" r="1.3"/><circle cx="501.8" cy="55.2" r="1.3"/><circle cx="509.7" cy="55.1" r="1.3"/><circle cx="513.3" cy="55.2" r="1.3"/><circle cx="515.5" cy="54.4" r="1.3"/><circle cx="520.9" cy="55.1" r="1.3"/><circle cx="527.2" cy="55.1" r="1.3"/><circle cx="529.3" cy="55.1" r="1.3"/><circle cx="532.7" cy="55.4" r="1.3"/><circle cx="540.8" cy="54.9" r="1.3"/><circle cx="544.3" cy="54.6" r="1.3"/><circle cx="546.4" cy="54.6" r="1.3"/><circle cx="560.4" cy="55.3" r="1.3"/><circle cx="574.6" cy="54.7" r="1.3"/><circle cx="599.6" cy="54.9" r="1.3"/><circle cx="332.3" cy="57.4" r="1.3"/><circle cx="335.6" cy="56.8" r="1.3"/><circle cx="411.2" cy="57.1" r="1.3"/><circle cx="447.1" cy="57.5" r="1.3"/><circle cx="455.6" cy="57.5" r="1.3"/><circle cx="464.4" cy="56.9" r="1.3"/><circle cx="477.8" cy="57.6" r="1.3"/><circle cx="481.3" cy="56.8" r="1.3"/><circle cx="484" cy="57.4" r="1.3"/><circle cx="485.9" cy="56.9" r="1.3"/><circle cx="489.6" cy="57.7" r="1.3"/><circle cx="492.5" cy="56.8" r="1.3"/><circle cx="495.3" cy="57.1" r="1.3"/><circle cx="499.9" cy="57.1" r="1.3"/><circle cx="502.9" cy="57.6" r="1.3"/><circle cx="506.3" cy="57.1" r="1.3"/><circle cx="508.9" cy="56.9" r="1.3"/><circle cx="511.9" cy="57.4" r="1.3"/><circle cx="513.9" cy="57.3" r="1.3"/><circle cx="517.4" cy="56.9" r="1.3"/><circle cx="522.7" cy="57.5" r="1.3"/><circle cx="525.2" cy="57.8" r="1.3"/><circle cx="528.8" cy="57.7" r="1.3"/><circle cx="530.8" cy="56.8" r="1.3"/><circle cx="536.8" cy="57.3" r="1.3"/><circle cx="539.6" cy="56.9" r="1.3"/><circle cx="550.7" cy="57" r="1.3"/><circle cx="553.3" cy="57.7" r="1.3"/><circle cx="562.5" cy="57.3" r="1.3"/><circle cx="578.5" cy="56.8" r="1.3"/><circle cx="592.9" cy="57" r="1.3"/><circle cx="603.7" cy="57.4" r="1.3"/><circle cx="609.7" cy="57.5" r="1.3"/><circle cx="626.9" cy="57.2" r="1.3"/><circle cx="454.7" cy="60" r="1.3"/><circle cx="462.3" cy="59.7" r="1.3"/><circle cx="465.4" cy="60.2" r="1.3"/><circle cx="474.1" cy="60" r="1.3"/><circle cx="484.5" cy="59.9" r="1.3"/><circle cx="490.7" cy="60.1" r="1.3"/><circle cx="496.2" cy="59.2" r="1.3"/><circle cx="499.3" cy="59.6" r="1.3"/><circle cx="501.8" cy="59.5" r="1.3"/><circle cx="504.4" cy="60.1" r="1.3"/><circle cx="507.2" cy="59.3" r="1.3"/><circle cx="510.4" cy="59.7" r="1.3"/><circle cx="518.8" cy="59.2" r="1.3"/><circle cx="523.9" cy="60.2" r="1.3"/><circle cx="526.7" cy="60.1" r="1.3"/><circle cx="535.4" cy="60.2" r="1.3"/><circle cx="544.2" cy="59.3" r="1.3"/><circle cx="549" cy="60.2" r="1.3"/><circle cx="563.5" cy="60.1" r="1.3"/><circle cx="580.3" cy="59.7" r="1.3"/><circle cx="614.2" cy="59.9" r="1.3"/><circle cx="326.6" cy="61.7" r="1.3"/><circle cx="343.5" cy="62.4" r="1.3"/><circle cx="452.5" cy="62" r="1.3"/><circle cx="460.9" cy="62.6" r="1.3"/><circle cx="474.8" cy="62.4" r="1.3"/><circle cx="478.1" cy="62.3" r="1.3"/><circle cx="483.4" cy="62.6" r="1.3"/><circle cx="486.2" cy="62.3" r="1.3"/><circle cx="489.5" cy="61.6" r="1.3"/><circle cx="494.6" cy="62.6" r="1.3"/><circle cx="497.3" cy="61.7" r="1.3"/><circle cx="500.7" cy="62.3" r="1.3"/><circle cx="503.5" cy="61.7" r="1.3"/><circle cx="506.2" cy="62.7" r="1.3"/><circle cx="509" cy="62.4" r="1.3"/><circle cx="512.1" cy="62.4" r="1.3"/><circle cx="514.3" cy="62.5" r="1.3"/><circle cx="516.9" cy="62.6" r="1.3"/><circle cx="520" cy="62.3" r="1.3"/><circle cx="525.4" cy="61.7" r="1.3"/><circle cx="528.4" cy="62.5" r="1.3"/><circle cx="536.9" cy="61.9" r="1.3"/><circle cx="548.2" cy="62.4" r="1.3"/><circle cx="570.6" cy="62.4" r="1.3"/><circle cx="578.9" cy="62.5" r="1.3"/><circle cx="590.2" cy="62.7" r="1.3"/><circle cx="601.6" cy="62" r="1.3"/><circle cx="604.1" cy="61.7" r="1.3"/><circle cx="609.5" cy="62.2" r="1.3"/><circle cx="615.6" cy="61.7" r="1.3"/><circle cx="342.5" cy="64.1" r="1.3"/><circle cx="350.7" cy="64.8" r="1.3"/><circle cx="459.5" cy="64" r="1.3"/><circle cx="470.8" cy="64.2" r="1.3"/><circle cx="478.9" cy="64.2" r="1.3"/><circle cx="482.6" cy="64.9" r="1.3"/><circle cx="484.6" cy="64.1" r="1.3"/><circle cx="488.1" cy="64.5" r="1.3"/><circle cx="496.2" cy="64.9" r="1.3"/><circle cx="498.6" cy="64.6" r="1.3"/><circle cx="501.5" cy="64.3" r="1.3"/><circle cx="505" cy="64.8" r="1.3"/><circle cx="513.3" cy="64.4" r="1.3"/><circle cx="520.9" cy="64.3" r="1.3"/><circle cx="526.5" cy="64.9" r="1.3"/><circle cx="535.8" cy="64.6" r="1.3"/><circle cx="538" cy="64.7" r="1.3"/><circle cx="549.1" cy="65" r="1.3"/><circle cx="555.1" cy="64.2" r="1.3"/><circle cx="574.8" cy="64.1" r="1.3"/><circle cx="607.9" cy="65.1" r="1.3"/><circle cx="331.9" cy="66.7" r="1.3"/><circle cx="357.9" cy="66.6" r="1.3"/><circle cx="388.8" cy="67.1" r="1.3"/><circle cx="419.5" cy="66.5" r="1.3"/><circle cx="453.1" cy="67.4" r="1.3"/><circle cx="458.3" cy="66.8" r="1.3"/><circle cx="464.1" cy="67.5" r="1.3"/><circle cx="469.1" cy="66.6" r="1.3"/><circle cx="475.2" cy="66.9" r="1.3"/><circle cx="478.1" cy="67.2" r="1.3"/><circle cx="494.3" cy="67.2" r="1.3"/><circle cx="497.5" cy="67.4" r="1.3"/><circle cx="500.9" cy="66.9" r="1.3"/><circle cx="502.9" cy="66.8" r="1.3"/><circle cx="505.8" cy="66.5" r="1.3"/><circle cx="509.3" cy="67.2" r="1.3"/><circle cx="525.3" cy="66.9" r="1.3"/><circle cx="528.1" cy="67.4" r="1.3"/><circle cx="534.3" cy="67.3" r="1.3"/><circle cx="545.6" cy="66.8" r="1.3"/><circle cx="559.2" cy="67.2" r="1.3"/><circle cx="578.5" cy="66.8" r="1.3"/><circle cx="584.1" cy="67.2" r="1.3"/><circle cx="612.6" cy="66.7" r="1.3"/><circle cx="336.4" cy="69" r="1.3"/><circle cx="358.8" cy="69.3" r="1.3"/><circle cx="370.7" cy="69.2" r="1.3"/><circle cx="376.2" cy="69.1" r="1.3"/><circle cx="389.5" cy="69.9" r="1.3"/><circle cx="425.7" cy="69.8" r="1.3"/><circle cx="453.9" cy="69.7" r="1.3"/><circle cx="456.9" cy="69.7" r="1.3"/><circle cx="459.5" cy="69.1" r="1.3"/><circle cx="462.5" cy="69.6" r="1.3"/><circle cx="465.8" cy="68.9" r="1.3"/><circle cx="468.6" cy="69.1" r="1.3"/><circle cx="470.9" cy="69" r="1.3"/><circle cx="474" cy="69" r="1.3"/><circle cx="476.6" cy="69.1" r="1.3"/><circle cx="479.3" cy="69" r="1.3"/><circle cx="482" cy="69.4" r="1.3"/><circle cx="487.3" cy="69.1" r="1.3"/><circle cx="490.7" cy="69.8" r="1.3"/><circle cx="495.8" cy="69.9" r="1.3"/><circle cx="498.7" cy="69.1" r="1.3"/><circle cx="501.5" cy="69" r="1.3"/><circle cx="505.1" cy="69.4" r="1.3"/><circle cx="506.9" cy="69.4" r="1.3"/><circle cx="509.9" cy="69.6" r="1.3"/><circle cx="512.6" cy="70" r="1.3"/><circle cx="515.4" cy="68.9" r="1.3"/><circle cx="520.9" cy="69.4" r="1.3"/><circle cx="529.8" cy="69.5" r="1.3"/><circle cx="535.7" cy="69.9" r="1.3"/><circle cx="560.3" cy="68.9" r="1.3"/><circle cx="586.3" cy="69.1" r="1.3"/><circle cx="329.5" cy="71.5" r="1.3"/><circle cx="335.3" cy="71.6" r="1.3"/><circle cx="371.3" cy="71.5" r="1.3"/><circle cx="402.9" cy="71.4" r="1.3"/><circle cx="405" cy="71.6" r="1.3"/><circle cx="449.5" cy="72.3" r="1.3"/><circle cx="455.8" cy="71.6" r="1.3"/><circle cx="458.3" cy="71.9" r="1.3"/><circle cx="460.7" cy="72.1" r="1.3"/><circle cx="464" cy="72" r="1.3"/><circle cx="469.6" cy="72" r="1.3"/><circle cx="474.8" cy="72.3" r="1.3"/><circle cx="480.7" cy="72.3" r="1.3"/><circle cx="483.5" cy="72.4" r="1.3"/><circle cx="489.5" cy="71.7" r="1.3"/><circle cx="492.3" cy="71.4" r="1.3"/><circle cx="494.5" cy="71.6" r="1.3"/><circle cx="497.2" cy="71.7" r="1.3"/><circle cx="499.9" cy="71.9" r="1.3"/><circle cx="505.8" cy="72.1" r="1.3"/><circle cx="508.4" cy="71.8" r="1.3"/><circle cx="511.8" cy="71.5" r="1.3"/><circle cx="514.9" cy="72.1" r="1.3"/><circle cx="531.5" cy="71.6" r="1.3"/><circle cx="553.6" cy="72.1" r="1.3"/><circle cx="558.7" cy="71.5" r="1.3"/><circle cx="564.5" cy="71.6" r="1.3"/><circle cx="572.8" cy="72.3" r="1.3"/><circle cx="597.9" cy="71.5" r="1.3"/><circle cx="367.6" cy="74.3" r="1.3"/><circle cx="398.4" cy="74" r="1.3"/><circle cx="454.3" cy="73.8" r="1.3"/><circle cx="457" cy="73.9" r="1.3"/><circle cx="465.1" cy="73.9" r="1.3"/><circle cx="468.2" cy="74.1" r="1.3"/><circle cx="474.1" cy="73.8" r="1.3"/><circle cx="476.5" cy="74.3" r="1.3"/><circle cx="479.6" cy="74" r="1.3"/><circle cx="482.2" cy="74.5" r="1.3"/><circle cx="487.7" cy="74.7" r="1.3"/><circle cx="493" cy="74.2" r="1.3"/><circle cx="496" cy="73.8" r="1.3"/><circle cx="501.4" cy="74.2" r="1.3"/><circle cx="504.4" cy="73.8" r="1.3"/><circle cx="507.7" cy="74.2" r="1.3"/><circle cx="510.1" cy="73.8" r="1.3"/><circle cx="515.6" cy="74.6" r="1.3"/><circle cx="518.2" cy="73.8" r="1.3"/><circle cx="521.4" cy="74.6" r="1.3"/><circle cx="523.8" cy="74.6" r="1.3"/><circle cx="532.3" cy="74.8" r="1.3"/><circle cx="535.1" cy="74.5" r="1.3"/><circle cx="572.1" cy="74.1" r="1.3"/><circle cx="586.2" cy="74.1" r="1.3"/><circle cx="611.3" cy="74.4" r="1.3"/><circle cx="449.6" cy="76.5" r="1.3"/><circle cx="453.1" cy="76.4" r="1.3"/><circle cx="455.1" cy="77" r="1.3"/><circle cx="458.4" cy="76.6" r="1.3"/><circle cx="466.9" cy="77.1" r="1.3"/><circle cx="470" cy="77" r="1.3"/><circle cx="472.8" cy="76.8" r="1.3"/><circle cx="475.3" cy="77.1" r="1.3"/><circle cx="484" cy="76.9" r="1.3"/><circle cx="486.2" cy="76.5" r="1.3"/><circle cx="491.6" cy="77.2" r="1.3"/><circle cx="494.9" cy="76.6" r="1.3"/><circle cx="497.5" cy="76.2" r="1.3"/><circle cx="500.8" cy="77" r="1.3"/><circle cx="502.9" cy="77" r="1.3"/><circle cx="505.7" cy="77.1" r="1.3"/><circle cx="511.5" cy="76.9" r="1.3"/><circle cx="517" cy="76.5" r="1.3"/><circle cx="522.9" cy="76.7" r="1.3"/><circle cx="528.9" cy="77.2" r="1.3"/><circle cx="559.2" cy="77.1" r="1.3"/><circle cx="606.6" cy="76.9" r="1.3"/><circle cx="348.3" cy="79.1" r="1.3"/><circle cx="353.7" cy="79.3" r="1.3"/><circle cx="454.4" cy="79" r="1.3"/><circle cx="457.4" cy="79.2" r="1.3"/><circle cx="460.2" cy="79.4" r="1.3"/><circle cx="462.7" cy="79.6" r="1.3"/><circle cx="465.3" cy="78.9" r="1.3"/><circle cx="479.3" cy="79.5" r="1.3"/><circle cx="491.1" cy="79.2" r="1.3"/><circle cx="493.1" cy="78.7" r="1.3"/><circle cx="496.5" cy="78.6" r="1.3"/><circle cx="499" cy="79.1" r="1.3"/><circle cx="502.2" cy="79" r="1.3"/><circle cx="505.1" cy="79.3" r="1.3"/><circle cx="507.2" cy="79" r="1.3"/><circle cx="510.5" cy="78.9" r="1.3"/><circle cx="512.9" cy="79" r="1.3"/><circle cx="518.4" cy="78.9" r="1.3"/><circle cx="524.4" cy="78.6" r="1.3"/><circle cx="526.5" cy="79.5" r="1.3"/><circle cx="529.5" cy="78.6" r="1.3"/><circle cx="552.7" cy="79" r="1.3"/><circle cx="566.6" cy="79.4" r="1.3"/><circle cx="574.1" cy="78.7" r="1.3"/><circle cx="577.6" cy="79.3" r="1.3"/><circle cx="579.8" cy="78.8" r="1.3"/><circle cx="380.3" cy="81.9" r="1.3"/><circle cx="385.9" cy="81.4" r="1.3"/><circle cx="447.6" cy="81.5" r="1.3"/><circle cx="450.5" cy="81.1" r="1.3"/><circle cx="458.7" cy="81.6" r="1.3"/><circle cx="463.9" cy="82" r="1.3"/><circle cx="467.1" cy="81.1" r="1.3"/><circle cx="469.2" cy="82" r="1.3"/><circle cx="478.3" cy="81.7" r="1.3"/><circle cx="480.8" cy="81.8" r="1.3"/><circle cx="483.8" cy="81.3" r="1.3"/><circle cx="486.9" cy="82" r="1.3"/><circle cx="492.1" cy="81.9" r="1.3"/><circle cx="494.8" cy="81.9" r="1.3"/><circle cx="498.1" cy="81.5" r="1.3"/><circle cx="500.7" cy="81.2" r="1.3"/><circle cx="502.7" cy="82.1" r="1.3"/><circle cx="506.3" cy="81.1" r="1.3"/><circle cx="508.7" cy="81.3" r="1.3"/><circle cx="514.4" cy="81.1" r="1.3"/><circle cx="522.8" cy="81.5" r="1.3"/><circle cx="386.7" cy="83.6" r="1.3"/><circle cx="436.9" cy="84" r="1.3"/><circle cx="446.2" cy="84.2" r="1.3"/><circle cx="462.1" cy="83.9" r="1.3"/><circle cx="468.3" cy="83.4" r="1.3"/><circle cx="471.4" cy="84.1" r="1.3"/><circle cx="476.3" cy="83.6" r="1.3"/><circle cx="482.7" cy="83.7" r="1.3"/><circle cx="487.6" cy="84.5" r="1.3"/><circle cx="490.8" cy="83.5" r="1.3"/><circle cx="493.9" cy="83.5" r="1.3"/><circle cx="495.9" cy="83.6" r="1.3"/><circle cx="499.2" cy="84.5" r="1.3"/><circle cx="507.6" cy="83.6" r="1.3"/><circle cx="510.3" cy="83.8" r="1.3"/><circle cx="515.4" cy="83.6" r="1.3"/><circle cx="518.7" cy="84.3" r="1.3"/><circle cx="521.4" cy="84.1" r="1.3"/><circle cx="532.1" cy="83.9" r="1.3"/><circle cx="549.4" cy="83.8" r="1.3"/><circle cx="579.7" cy="83.8" r="1.3"/><circle cx="583.2" cy="83.9" r="1.3"/><circle cx="358" cy="85.8" r="1.3"/><circle cx="369" cy="86.9" r="1.3"/><circle cx="394" cy="86.9" r="1.3"/><circle cx="450.2" cy="86.7" r="1.3"/><circle cx="452.6" cy="85.9" r="1.3"/><circle cx="455.8" cy="86.2" r="1.3"/><circle cx="458.3" cy="86.6" r="1.3"/><circle cx="461.7" cy="86.3" r="1.3"/><circle cx="463.6" cy="86.6" r="1.3"/><circle cx="467" cy="86" r="1.3"/><circle cx="472" cy="86.3" r="1.3"/><circle cx="474.7" cy="85.9" r="1.3"/><circle cx="478.4" cy="86.9" r="1.3"/><circle cx="481.2" cy="86.7" r="1.3"/><circle cx="486.9" cy="86.6" r="1.3"/><circle cx="491.7" cy="86.4" r="1.3"/><circle cx="494.6" cy="86.3" r="1.3"/><circle cx="497.7" cy="86.1" r="1.3"/><circle cx="500.4" cy="86.4" r="1.3"/><circle cx="503.4" cy="86" r="1.3"/><circle cx="505.8" cy="86.7" r="1.3"/><circle cx="509.1" cy="86.4" r="1.3"/><circle cx="512.1" cy="86.4" r="1.3"/><circle cx="514.2" cy="86.3" r="1.3"/><circle cx="528.3" cy="86.2" r="1.3"/><circle cx="564.6" cy="85.9" r="1.3"/><circle cx="587.5" cy="86.7" r="1.3"/><circle cx="367.3" cy="88.7" r="1.3"/><circle cx="370.1" cy="89.1" r="1.3"/><circle cx="384.4" cy="88.9" r="1.3"/><circle cx="409.2" cy="89" r="1.3"/><circle cx="435.1" cy="88.5" r="1.3"/><circle cx="440.3" cy="88.7" r="1.3"/><circle cx="443.3" cy="89.2" r="1.3"/><circle cx="446.1" cy="88.8" r="1.3"/><circle cx="451.3" cy="88.5" r="1.3"/><circle cx="454.5" cy="89.2" r="1.3"/><circle cx="456.9" cy="89.1" r="1.3"/><circle cx="459.5" cy="89.1" r="1.3"/><circle cx="463.1" cy="88.4" r="1.3"/><circle cx="465.1" cy="88.3" r="1.3"/><circle cx="467.8" cy="88.7" r="1.3"/><circle cx="471" cy="88.6" r="1.3"/><circle cx="473.8" cy="89.3" r="1.3"/><circle cx="476.6" cy="88.8" r="1.3"/><circle cx="479.8" cy="88.5" r="1.3"/><circle cx="482" cy="88.6" r="1.3"/><circle cx="485.1" cy="88.6" r="1.3"/><circle cx="488.3" cy="88.7" r="1.3"/><circle cx="490.8" cy="88.9" r="1.3"/><circle cx="493.2" cy="89.2" r="1.3"/><circle cx="496.1" cy="89.3" r="1.3"/><circle cx="498.9" cy="88.4" r="1.3"/><circle cx="502" cy="88.8" r="1.3"/><circle cx="504.3" cy="89.1" r="1.3"/><circle cx="507.8" cy="88.7" r="1.3"/><circle cx="509.7" cy="88.5" r="1.3"/><circle cx="516" cy="88.8" r="1.3"/><circle cx="518.3" cy="88.5" r="1.3"/><circle cx="527.2" cy="88.4" r="1.3"/><circle cx="605.9" cy="89.3" r="1.3"/><circle cx="625.4" cy="88.8" r="1.3"/><circle cx="340.6" cy="90.8" r="1.3"/><circle cx="343.7" cy="90.8" r="1.3"/><circle cx="439.3" cy="91.1" r="1.3"/><circle cx="443.9" cy="91.5" r="1.3"/><circle cx="447.6" cy="91.1" r="1.3"/><circle cx="449.8" cy="91.5" r="1.3"/><circle cx="452.7" cy="91.3" r="1.3"/><circle cx="456.1" cy="91.2" r="1.3"/><circle cx="458.7" cy="90.9" r="1.3"/><circle cx="461" cy="91.6" r="1.3"/><circle cx="463.8" cy="91.4" r="1.3"/><circle cx="466.7" cy="91.3" r="1.3"/><circle cx="469.5" cy="90.7" r="1.3"/><circle cx="472.1" cy="91.6" r="1.3"/><circle cx="475.3" cy="91.4" r="1.3"/><circle cx="478.3" cy="91" r="1.3"/><circle cx="481.1" cy="91.4" r="1.3"/><circle cx="483.5" cy="91.4" r="1.3"/><circle cx="486.1" cy="90.8" r="1.3"/><circle cx="489.2" cy="90.9" r="1.3"/><circle cx="492.4" cy="91.1" r="1.3"/><circle cx="494.5" cy="91.3" r="1.3"/><circle cx="497.6" cy="91.3" r="1.3"/><circle cx="500.4" cy="91.6" r="1.3"/><circle cx="503.7" cy="90.9" r="1.3"/><circle cx="506.3" cy="91.3" r="1.3"/><circle cx="508.5" cy="91.6" r="1.3"/><circle cx="511.8" cy="90.9" r="1.3"/><circle cx="514.6" cy="91.1" r="1.3"/><circle cx="516.7" cy="91.4" r="1.3"/><circle cx="522.9" cy="91.5" r="1.3"/><circle cx="526" cy="91.7" r="1.3"/><circle cx="528.1" cy="90.8" r="1.3"/><circle cx="534" cy="91" r="1.3"/><circle cx="556.2" cy="90.8" r="1.3"/><circle cx="570.7" cy="91.1" r="1.3"/><circle cx="582.1" cy="91.3" r="1.3"/><circle cx="333.9" cy="93.8" r="1.3"/><circle cx="364.5" cy="93.5" r="1.3"/><circle cx="398.7" cy="93.1" r="1.3"/><circle cx="440.4" cy="94" r="1.3"/><circle cx="443.3" cy="93.4" r="1.3"/><circle cx="445.3" cy="93.6" r="1.3"/><circle cx="451.3" cy="94" r="1.3"/><circle cx="453.8" cy="93.7" r="1.3"/><circle cx="457.5" cy="94.1" r="1.3"/><circle cx="459.9" cy="93.6" r="1.3"/><circle cx="462.5" cy="94.1" r="1.3"/><circle cx="465.5" cy="93.9" r="1.3"/><circle cx="468.7" cy="93.2" r="1.3"/><circle cx="471.2" cy="93.1" r="1.3"/><circle cx="473.4" cy="93.6" r="1.3"/><circle cx="476.2" cy="93.4" r="1.3"/><circle cx="478.9" cy="93.3" r="1.3"/><circle cx="481.8" cy="94" r="1.3"/><circle cx="484.7" cy="93.4" r="1.3"/><circle cx="487.3" cy="93.9" r="1.3"/><circle cx="491.1" cy="93.6" r="1.3"/><circle cx="493.8" cy="93.2" r="1.3"/><circle cx="496.4" cy="93.8" r="1.3"/><circle cx="498.8" cy="93.7" r="1.3"/><circle cx="501.7" cy="93.4" r="1.3"/><circle cx="504.4" cy="93.4" r="1.3"/><circle cx="506.9" cy="94" r="1.3"/><circle cx="509.9" cy="93.2" r="1.3"/><circle cx="513" cy="93.9" r="1.3"/><circle cx="515.7" cy="94.1" r="1.3"/><circle cx="519.1" cy="94.1" r="1.3"/><circle cx="549.8" cy="93.3" r="1.3"/><circle cx="566.4" cy="93.2" r="1.3"/><circle cx="577.1" cy="94.2" r="1.3"/><circle cx="402.3" cy="96" r="1.3"/><circle cx="405.6" cy="96" r="1.3"/><circle cx="408.5" cy="95.8" r="1.3"/><circle cx="413.2" cy="96.3" r="1.3"/><circle cx="439.2" cy="95.6" r="1.3"/><circle cx="447.3" cy="96.4" r="1.3"/><circle cx="450" cy="95.8" r="1.3"/><circle cx="452.5" cy="96.3" r="1.3"/><circle cx="455.9" cy="96.2" r="1.3"/><circle cx="458.9" cy="96.4" r="1.3"/><circle cx="461" cy="96.6" r="1.3"/><circle cx="463.6" cy="95.9" r="1.3"/><circle cx="467.3" cy="96.3" r="1.3"/><circle cx="470.1" cy="96.4" r="1.3"/><circle cx="472.4" cy="96.4" r="1.3"/><circle cx="474.8" cy="96.2" r="1.3"/><circle cx="477.7" cy="96.3" r="1.3"/><circle cx="480.4" cy="95.7" r="1.3"/><circle cx="483.4" cy="96.6" r="1.3"/><circle cx="489.5" cy="96.2" r="1.3"/><circle cx="492.5" cy="95.7" r="1.3"/><circle cx="494.7" cy="95.6" r="1.3"/><circle cx="497.5" cy="96.6" r="1.3"/><circle cx="500.8" cy="96.4" r="1.3"/><circle cx="502.9" cy="95.9" r="1.3"/><circle cx="505.9" cy="96.3" r="1.3"/><circle cx="508.6" cy="96.2" r="1.3"/><circle cx="514.2" cy="95.6" r="1.3"/><circle cx="516.7" cy="96" r="1.3"/><circle cx="536.7" cy="95.8" r="1.3"/><circle cx="542.4" cy="96" r="1.3"/><circle cx="551.1" cy="96.4" r="1.3"/><circle cx="556.5" cy="96.5" r="1.3"/><circle cx="565.2" cy="96.3" r="1.3"/><circle cx="615.2" cy="96.2" r="1.3"/><circle cx="333.6" cy="98.9" r="1.3"/><circle cx="336.9" cy="98" r="1.3"/><circle cx="400.7" cy="98.5" r="1.3"/><circle cx="407" cy="98.4" r="1.3"/><circle cx="414.8" cy="98.1" r="1.3"/><circle cx="417.6" cy="98.7" r="1.3"/><circle cx="423.7" cy="98.5" r="1.3"/><circle cx="426.6" cy="98.9" r="1.3"/><circle cx="429.5" cy="98.9" r="1.3"/><circle cx="431.3" cy="98.9" r="1.3"/><circle cx="437.7" cy="98.8" r="1.3"/><circle cx="449" cy="99" r="1.3"/><circle cx="451.6" cy="98.7" r="1.3"/><circle cx="456.8" cy="98.2" r="1.3"/><circle cx="459.4" cy="98.9" r="1.3"/><circle cx="462.3" cy="98.7" r="1.3"/><circle cx="465" cy="98.8" r="1.3"/><circle cx="468" cy="98.1" r="1.3"/><circle cx="471.3" cy="98.5" r="1.3"/><circle cx="473.4" cy="98.1" r="1.3"/><circle cx="477" cy="98.1" r="1.3"/><circle cx="479.7" cy="98.1" r="1.3"/><circle cx="481.7" cy="98.2" r="1.3"/><circle cx="485.4" cy="98.4" r="1.3"/><circle cx="487.3" cy="98.3" r="1.3"/><circle cx="490.9" cy="98.8" r="1.3"/><circle cx="493.4" cy="98.7" r="1.3"/><circle cx="496.1" cy="98.3" r="1.3"/><circle cx="499.3" cy="98.2" r="1.3"/><circle cx="501.6" cy="98.9" r="1.3"/><circle cx="504.6" cy="98.4" r="1.3"/><circle cx="513.1" cy="98.9" r="1.3"/><circle cx="515.5" cy="98.1" r="1.3"/><circle cx="524.1" cy="99.1" r="1.3"/><circle cx="600.2" cy="98.9" r="1.3"/><circle cx="628.3" cy="98.2" r="1.3"/><circle cx="343.1" cy="101" r="1.3"/><circle cx="396.4" cy="100.8" r="1.3"/><circle cx="418.7" cy="101.1" r="1.3"/><circle cx="436.1" cy="101.1" r="1.3"/><circle cx="438.3" cy="100.9" r="1.3"/><circle cx="441.9" cy="101.1" r="1.3"/><circle cx="444.3" cy="100.6" r="1.3"/><circle cx="446.8" cy="101.3" r="1.3"/><circle cx="450.2" cy="100.8" r="1.3"/><circle cx="455.8" cy="100.8" r="1.3"/><circle cx="458.1" cy="101.5" r="1.3"/><circle cx="461.2" cy="101.1" r="1.3"/><circle cx="463.8" cy="100.6" r="1.3"/><circle cx="466.3" cy="100.9" r="1.3"/><circle cx="469.9" cy="101.2" r="1.3"/><circle cx="472.1" cy="101.2" r="1.3"/><circle cx="475.4" cy="100.8" r="1.3"/><circle cx="478.1" cy="101.3" r="1.3"/><circle cx="484.1" cy="100.4" r="1.3"/><circle cx="489.2" cy="100.8" r="1.3"/><circle cx="491.8" cy="100.6" r="1.3"/><circle cx="494.9" cy="101.2" r="1.3"/><circle cx="497.1" cy="101.2" r="1.3"/><circle cx="500.4" cy="100.4" r="1.3"/><circle cx="503.4" cy="101.2" r="1.3"/><circle cx="505.9" cy="101.2" r="1.3"/><circle cx="508.5" cy="101" r="1.3"/><circle cx="511.9" cy="100.6" r="1.3"/><circle cx="514.2" cy="100.5" r="1.3"/><circle cx="517.5" cy="101" r="1.3"/><circle cx="520.3" cy="100.5" r="1.3"/><circle cx="528.1" cy="101" r="1.3"/><circle cx="559" cy="100.7" r="1.3"/><circle cx="570.8" cy="100.7" r="1.3"/><circle cx="573.6" cy="100.7" r="1.3"/><circle cx="578.7" cy="100.5" r="1.3"/><circle cx="331.2" cy="103.1" r="1.3"/><circle cx="364.4" cy="102.9" r="1.3"/><circle cx="378.7" cy="103.8" r="1.3"/><circle cx="412.3" cy="103.9" r="1.3"/><circle cx="415.4" cy="103.7" r="1.3"/><circle cx="423.9" cy="102.9" r="1.3"/><circle cx="443.5" cy="103.2" r="1.3"/><circle cx="448.9" cy="103.1" r="1.3"/><circle cx="450.9" cy="103.4" r="1.3"/><circle cx="454.6" cy="103.6" r="1.3"/><circle cx="457.5" cy="103.9" r="1.3"/><circle cx="462.8" cy="103.6" r="1.3"/><circle cx="464.9" cy="103.8" r="1.3"/><circle cx="468.3" cy="103.7" r="1.3"/><circle cx="470.5" cy="103.8" r="1.3"/><circle cx="473.3" cy="103" r="1.3"/><circle cx="481.8" cy="103.8" r="1.3"/><circle cx="490.5" cy="103.9" r="1.3"/><circle cx="493.3" cy="102.9" r="1.3"/><circle cx="499.5" cy="103.7" r="1.3"/><circle cx="504.8" cy="103.4" r="1.3"/><circle cx="507" cy="103.4" r="1.3"/><circle cx="513.4" cy="103.3" r="1.3"/><circle cx="515.5" cy="103.3" r="1.3"/><circle cx="538" cy="103.2" r="1.3"/><circle cx="547.1" cy="103.3" r="1.3"/><circle cx="329.5" cy="105.7" r="1.3"/><circle cx="351.5" cy="106" r="1.3"/><circle cx="369.2" cy="106.3" r="1.3"/><circle cx="380.4" cy="106.2" r="1.3"/><circle cx="410.9" cy="106.3" r="1.3"/><circle cx="418.7" cy="106" r="1.3"/><circle cx="422.3" cy="106" r="1.3"/><circle cx="436.1" cy="105.7" r="1.3"/><circle cx="439.3" cy="106" r="1.3"/><circle cx="441.3" cy="105.6" r="1.3"/><circle cx="444.2" cy="105.7" r="1.3"/><circle cx="450.2" cy="105.6" r="1.3"/><circle cx="458.5" cy="105.4" r="1.3"/><circle cx="461.3" cy="105.9" r="1.3"/><circle cx="463.5" cy="105.4" r="1.3"/><circle cx="466.4" cy="105.6" r="1.3"/><circle cx="488.9" cy="105.7" r="1.3"/><circle cx="494.5" cy="105.4" r="1.3"/><circle cx="497.4" cy="105.7" r="1.3"/><circle cx="503.2" cy="105.7" r="1.3"/><circle cx="565" cy="105.7" r="1.3"/><circle cx="567.3" cy="105.5" r="1.3"/><circle cx="606.4" cy="105.5" r="1.3"/><circle cx="632.5" cy="105.5" r="1.3"/><circle cx="331.2" cy="108.1" r="1.3"/><circle cx="339.1" cy="108.6" r="1.3"/><circle cx="356.7" cy="107.7" r="1.3"/><circle cx="392.2" cy="107.9" r="1.3"/><circle cx="412.6" cy="107.7" r="1.3"/><circle cx="417.9" cy="108.5" r="1.3"/><circle cx="420.4" cy="108.6" r="1.3"/><circle cx="426.4" cy="108.5" r="1.3"/><circle cx="432" cy="108" r="1.3"/><circle cx="434.2" cy="108.1" r="1.3"/><circle cx="437.3" cy="108.3" r="1.3"/><circle cx="443.3" cy="107.8" r="1.3"/><circle cx="446.3" cy="108.6" r="1.3"/><circle cx="454.5" cy="108.3" r="1.3"/><circle cx="456.7" cy="107.8" r="1.3"/><circle cx="462.5" cy="108.3" r="1.3"/><circle cx="465.6" cy="108.5" r="1.3"/><circle cx="491" cy="108.2" r="1.3"/><circle cx="496" cy="108.2" r="1.3"/><circle cx="504.8" cy="108.1" r="1.3"/><circle cx="529.5" cy="108.7" r="1.3"/><circle cx="532.9" cy="108.2" r="1.3"/><circle cx="551.8" cy="108.4" r="1.3"/><circle cx="565.7" cy="107.9" r="1.3"/><circle cx="335.6" cy="110.9" r="1.3"/><circle cx="362.8" cy="110.2" r="1.3"/><circle cx="377.6" cy="111" r="1.3"/><circle cx="404.8" cy="110.5" r="1.3"/><circle cx="407.9" cy="111.2" r="1.3"/><circle cx="416.1" cy="110.1" r="1.3"/><circle cx="418.7" cy="110.7" r="1.3"/><circle cx="422.2" cy="110.7" r="1.3"/><circle cx="427.9" cy="110.8" r="1.3"/><circle cx="438.3" cy="110.6" r="1.3"/><circle cx="444.8" cy="111.1" r="1.3"/><circle cx="452.4" cy="110.4" r="1.3"/><circle cx="456.1" cy="110.2" r="1.3"/><circle cx="458.2" cy="110.5" r="1.3"/><circle cx="460.8" cy="111" r="1.3"/><circle cx="464.4" cy="110.5" r="1.3"/><circle cx="466.4" cy="111.2" r="1.3"/><circle cx="475.2" cy="110.9" r="1.3"/><circle cx="497.1" cy="111.1" r="1.3"/><circle cx="500.5" cy="110.5" r="1.3"/><circle cx="519.9" cy="111.1" r="1.3"/><circle cx="545.4" cy="110.5" r="1.3"/><circle cx="551.3" cy="111" r="1.3"/><circle cx="598.4" cy="110.7" r="1.3"/><circle cx="620.4" cy="110.9" r="1.3"/><circle cx="334.1" cy="113.2" r="1.3"/><circle cx="339.3" cy="112.8" r="1.3"/><circle cx="350.8" cy="112.6" r="1.3"/><circle cx="387.1" cy="113" r="1.3"/><circle cx="392.9" cy="113.3" r="1.3"/><circle cx="398.3" cy="113.4" r="1.3"/><circle cx="415" cy="113.1" r="1.3"/><circle cx="425.9" cy="113.2" r="1.3"/><circle cx="432" cy="113.6" r="1.3"/><circle cx="440.4" cy="113.5" r="1.3"/><circle cx="442.8" cy="113.6" r="1.3"/><circle cx="445.6" cy="113" r="1.3"/><circle cx="448.7" cy="113.5" r="1.3"/><circle cx="450.9" cy="112.6" r="1.3"/><circle cx="454.1" cy="112.5" r="1.3"/><circle cx="457.1" cy="112.7" r="1.3"/><circle cx="463.1" cy="112.9" r="1.3"/><circle cx="465.4" cy="112.8" r="1.3"/><circle cx="470.7" cy="112.9" r="1.3"/><circle cx="479.2" cy="113.2" r="1.3"/><circle cx="485.3" cy="112.9" r="1.3"/><circle cx="509.7" cy="113.4" r="1.3"/><circle cx="529.6" cy="112.9" r="1.3"/><circle cx="533.1" cy="113.5" r="1.3"/><circle cx="538.1" cy="112.6" r="1.3"/><circle cx="554.6" cy="113.4" r="1.3"/><circle cx="568.8" cy="112.5" r="1.3"/><circle cx="360" cy="115.3" r="1.3"/><circle cx="366.2" cy="115.7" r="1.3"/><circle cx="404.9" cy="115.5" r="1.3"/><circle cx="407.8" cy="115.5" r="1.3"/><circle cx="427.1" cy="116" r="1.3"/><circle cx="432.8" cy="115.2" r="1.3"/><circle cx="438.3" cy="115.5" r="1.3"/><circle cx="441.3" cy="115.4" r="1.3"/><circle cx="443.9" cy="115.2" r="1.3"/><circle cx="447" cy="115.4" r="1.3"/><circle cx="449.8" cy="115" r="1.3"/><circle cx="455.6" cy="114.9" r="1.3"/><circle cx="458.8" cy="115.4" r="1.3"/><circle cx="461.6" cy="115.9" r="1.3"/><circle cx="464" cy="115.6" r="1.3"/><circle cx="466.6" cy="115.6" r="1.3"/><circle cx="480.3" cy="115.9" r="1.3"/><circle cx="489.5" cy="115.1" r="1.3"/><circle cx="491.7" cy="115.9" r="1.3"/><circle cx="506.1" cy="115.7" r="1.3"/><circle cx="508.7" cy="115.1" r="1.3"/><circle cx="514" cy="115.2" r="1.3"/><circle cx="545" cy="115.9" r="1.3"/><circle cx="550.5" cy="115.6" r="1.3"/><circle cx="556" cy="115.6" r="1.3"/><circle cx="562.3" cy="115.2" r="1.3"/><circle cx="359" cy="118" r="1.3"/><circle cx="364.6" cy="117.4" r="1.3"/><circle cx="387.1" cy="118.4" r="1.3"/><circle cx="406.2" cy="117.6" r="1.3"/><circle cx="436.9" cy="118.4" r="1.3"/><circle cx="442.5" cy="118.2" r="1.3"/><circle cx="446" cy="117.7" r="1.3"/><circle cx="451.2" cy="118.3" r="1.3"/><circle cx="453.9" cy="117.9" r="1.3"/><circle cx="459.5" cy="118.2" r="1.3"/><circle cx="462.5" cy="118.2" r="1.3"/><circle cx="471.4" cy="117.8" r="1.3"/><circle cx="477" cy="117.9" r="1.3"/><circle cx="479" cy="117.9" r="1.3"/><circle cx="481.8" cy="118.3" r="1.3"/><circle cx="490.6" cy="117.9" r="1.3"/><circle cx="493.1" cy="118.4" r="1.3"/><circle cx="513.4" cy="117.5" r="1.3"/><circle cx="518.6" cy="118" r="1.3"/><circle cx="549.3" cy="117.9" r="1.3"/><circle cx="574.6" cy="117.9" r="1.3"/><circle cx="588.7" cy="117.5" r="1.3"/><circle cx="607.7" cy="117.4" r="1.3"/><circle cx="622.2" cy="118" r="1.3"/><circle cx="337.5" cy="120.1" r="1.3"/><circle cx="352.3" cy="120.6" r="1.3"/><circle cx="362.9" cy="119.9" r="1.3"/><circle cx="373.9" cy="120.9" r="1.3"/><circle cx="385.9" cy="120.8" r="1.3"/><circle cx="394.1" cy="120.5" r="1.3"/><circle cx="402.1" cy="120.5" r="1.3"/><circle cx="404.8" cy="120.1" r="1.3"/><circle cx="422.1" cy="120.7" r="1.3"/><circle cx="438.9" cy="120.1" r="1.3"/><circle cx="441.8" cy="119.8" r="1.3"/><circle cx="444.2" cy="120.4" r="1.3"/><circle cx="450.1" cy="120.1" r="1.3"/><circle cx="452.8" cy="120.4" r="1.3"/><circle cx="455.9" cy="120.3" r="1.3"/><circle cx="458.1" cy="120.7" r="1.3"/><circle cx="466.3" cy="120.5" r="1.3"/><circle cx="470" cy="120.5" r="1.3"/><circle cx="472.3" cy="120.5" r="1.3"/><circle cx="475.1" cy="120.7" r="1.3"/><circle cx="483.3" cy="120.1" r="1.3"/><circle cx="486.6" cy="120.4" r="1.3"/><circle cx="514.2" cy="120" r="1.3"/><circle cx="530.7" cy="120.6" r="1.3"/><circle cx="542.3" cy="120.7" r="1.3"/><circle cx="547.6" cy="120.8" r="1.3"/><circle cx="570.4" cy="120.7" r="1.3"/><circle cx="583.9" cy="120.4" r="1.3"/><circle cx="612.6" cy="120.5" r="1.3"/><circle cx="328.4" cy="122.4" r="1.3"/><circle cx="372.7" cy="123.3" r="1.3"/><circle cx="384.2" cy="123.2" r="1.3"/><circle cx="390" cy="122.9" r="1.3"/><circle cx="401.2" cy="122.4" r="1.3"/><circle cx="426" cy="122.3" r="1.3"/><circle cx="437.8" cy="122.5" r="1.3"/><circle cx="446.1" cy="122.5" r="1.3"/><circle cx="451.7" cy="123.1" r="1.3"/><circle cx="454.1" cy="122.6" r="1.3"/><circle cx="457.4" cy="123" r="1.3"/><circle cx="459.8" cy="123.2" r="1.3"/><circle cx="462.4" cy="123" r="1.3"/><circle cx="470.7" cy="123" r="1.3"/><circle cx="474.3" cy="123.2" r="1.3"/><circle cx="479.4" cy="122.3" r="1.3"/><circle cx="481.7" cy="122.8" r="1.3"/><circle cx="493.9" cy="122.3" r="1.3"/><circle cx="502.3" cy="122.9" r="1.3"/><circle cx="524.5" cy="122.9" r="1.3"/><circle cx="529.3" cy="123.2" r="1.3"/><circle cx="546.7" cy="123" r="1.3"/><circle cx="602.1" cy="122.6" r="1.3"/><circle cx="349.7" cy="124.8" r="1.3"/><circle cx="355" cy="124.8" r="1.3"/><circle cx="397" cy="125" r="1.3"/><circle cx="424.8" cy="125.3" r="1.3"/><circle cx="435.6" cy="124.8" r="1.3"/><circle cx="438.5" cy="125.4" r="1.3"/><circle cx="442" cy="124.9" r="1.3"/><circle cx="444.1" cy="124.8" r="1.3"/><circle cx="449.7" cy="125.5" r="1.3"/><circle cx="455.7" cy="125.4" r="1.3"/><circle cx="458" cy="125" r="1.3"/><circle cx="464.2" cy="124.7" r="1.3"/><circle cx="472.3" cy="125.2" r="1.3"/><circle cx="474.9" cy="124.8" r="1.3"/><circle cx="497.2" cy="125.7" r="1.3"/><circle cx="514.5" cy="124.9" r="1.3"/><circle cx="517.6" cy="125.3" r="1.3"/><circle cx="572.7" cy="125.4" r="1.3"/><circle cx="578.8" cy="125.7" r="1.3"/><circle cx="593.2" cy="125.3" r="1.3"/><circle cx="631.5" cy="124.8" r="1.3"/><circle cx="342.7" cy="127.6" r="1.3"/><circle cx="348.2" cy="127.6" r="1.3"/><circle cx="356.3" cy="127.3" r="1.3"/><circle cx="436.9" cy="127.6" r="1.3"/><circle cx="440.6" cy="127.2" r="1.3"/><circle cx="445.4" cy="127.9" r="1.3"/><circle cx="451.5" cy="127.7" r="1.3"/><circle cx="457" cy="127.6" r="1.3"/><circle cx="460" cy="127.2" r="1.3"/><circle cx="473.4" cy="127.2" r="1.3"/><circle cx="485.3" cy="128" r="1.3"/><circle cx="493.2" cy="127.6" r="1.3"/><circle cx="513" cy="127.8" r="1.3"/><circle cx="524.7" cy="127.4" r="1.3"/><circle cx="535.1" cy="127.2" r="1.3"/><circle cx="569" cy="127.8" r="1.3"/><circle cx="571.9" cy="127.4" r="1.3"/><circle cx="596.9" cy="127.4" r="1.3"/><circle cx="346.9" cy="129.7" r="1.3"/><circle cx="349.5" cy="129.7" r="1.3"/><circle cx="354.4" cy="129.9" r="1.3"/><circle cx="357.6" cy="129.9" r="1.3"/><circle cx="411.2" cy="130" r="1.3"/><circle cx="416.6" cy="129.9" r="1.3"/><circle cx="424.6" cy="130.3" r="1.3"/><circle cx="427.7" cy="130.1" r="1.3"/><circle cx="433.2" cy="130" r="1.3"/><circle cx="438.8" cy="129.8" r="1.3"/><circle cx="444.1" cy="129.7" r="1.3"/><circle cx="450.4" cy="130.3" r="1.3"/><circle cx="452.9" cy="129.5" r="1.3"/><circle cx="461.2" cy="130" r="1.3"/><circle cx="467.3" cy="130.2" r="1.3"/><circle cx="470" cy="130.5" r="1.3"/><circle cx="472.6" cy="130.4" r="1.3"/><circle cx="478.4" cy="129.8" r="1.3"/><circle cx="516.9" cy="130.4" r="1.3"/><circle cx="536.7" cy="130.6" r="1.3"/><circle cx="553.9" cy="130.4" r="1.3"/><circle cx="578.3" cy="129.8" r="1.3"/><circle cx="582" cy="129.8" r="1.3"/><circle cx="330.5" cy="132.4" r="1.3"/><circle cx="401.1" cy="132.8" r="1.3"/><circle cx="409.4" cy="132.2" r="1.3"/><circle cx="428.8" cy="132.1" r="1.3"/><circle cx="432.2" cy="132.9" r="1.3"/><circle cx="434.4" cy="132.9" r="1.3"/><circle cx="445.3" cy="132.2" r="1.3"/><circle cx="451.1" cy="132.4" r="1.3"/><circle cx="456.6" cy="132.3" r="1.3"/><circle cx="459.4" cy="132" r="1.3"/><circle cx="468.5" cy="132.8" r="1.3"/><circle cx="474.2" cy="132" r="1.3"/><circle cx="477.1" cy="132.2" r="1.3"/><circle cx="484.6" cy="132.6" r="1.3"/><circle cx="488" cy="132.7" r="1.3"/><circle cx="490.6" cy="132.1" r="1.3"/><circle cx="505" cy="132.8" r="1.3"/><circle cx="529.8" cy="132.9" r="1.3"/><circle cx="565.9" cy="132.3" r="1.3"/><circle cx="334.9" cy="134.7" r="1.3"/><circle cx="360.8" cy="135.2" r="1.3"/><circle cx="374.9" cy="135.1" r="1.3"/><circle cx="379.8" cy="134.8" r="1.3"/><circle cx="385.7" cy="134.4" r="1.3"/><circle cx="399.3" cy="134.4" r="1.3"/><circle cx="404.9" cy="134.5" r="1.3"/><circle cx="414.1" cy="134.5" r="1.3"/><circle cx="416.3" cy="135.2" r="1.3"/><circle cx="419.5" cy="134.9" r="1.3"/><circle cx="424.3" cy="134.4" r="1.3"/><circle cx="435.8" cy="134.6" r="1.3"/><circle cx="444.6" cy="134.4" r="1.3"/><circle cx="450.3" cy="135.1" r="1.3"/><circle cx="455.1" cy="135" r="1.3"/><circle cx="461.6" cy="135.3" r="1.3"/><circle cx="464" cy="135.1" r="1.3"/><circle cx="480.9" cy="134.8" r="1.3"/><circle cx="483.5" cy="134.6" r="1.3"/><circle cx="500.4" cy="135.2" r="1.3"/><circle cx="509.3" cy="135" r="1.3"/><circle cx="517.3" cy="134.8" r="1.3"/><circle cx="573.5" cy="134.4" r="1.3"/><circle cx="581.5" cy="135.1" r="1.3"/><circle cx="587.2" cy="135.2" r="1.3"/><circle cx="629.1" cy="134.4" r="1.3"/><circle cx="341.8" cy="137.5" r="1.3"/><circle cx="347.8" cy="137.2" r="1.3"/><circle cx="353" cy="136.8" r="1.3"/><circle cx="364.6" cy="137.2" r="1.3"/><circle cx="389.7" cy="137.8" r="1.3"/><circle cx="412.3" cy="136.8" r="1.3"/><circle cx="414.6" cy="137.2" r="1.3"/><circle cx="421" cy="136.9" r="1.3"/><circle cx="443.3" cy="137.5" r="1.3"/><circle cx="448.1" cy="137.3" r="1.3"/><circle cx="457.1" cy="137.8" r="1.3"/><circle cx="460.2" cy="137.8" r="1.3"/><circle cx="465.3" cy="137.3" r="1.3"/><circle cx="467.7" cy="137.1" r="1.3"/><circle cx="471.4" cy="137.2" r="1.3"/><circle cx="490.7" cy="137.1" r="1.3"/><circle cx="496.4" cy="137.1" r="1.3"/><circle cx="551.8" cy="137.8" r="1.3"/><circle cx="563.5" cy="137" r="1.3"/><circle cx="574.8" cy="137.4" r="1.3"/><circle cx="582.8" cy="137.3" r="1.3"/><circle cx="616.6" cy="137.3" r="1.3"/><circle cx="337.7" cy="139.7" r="1.3"/><circle cx="357.3" cy="139.5" r="1.3"/><circle cx="363.4" cy="140.2" r="1.3"/><circle cx="371.6" cy="139.4" r="1.3"/><circle cx="374.1" cy="140" r="1.3"/><circle cx="379.8" cy="139.3" r="1.3"/><circle cx="396.5" cy="139.4" r="1.3"/><circle cx="413.8" cy="140.2" r="1.3"/><circle cx="416.4" cy="139.3" r="1.3"/><circle cx="444" cy="140.2" r="1.3"/><circle cx="447.7" cy="140.2" r="1.3"/><circle cx="463.5" cy="140" r="1.3"/><circle cx="466.4" cy="139.8" r="1.3"/><circle cx="469.3" cy="140.2" r="1.3"/><circle cx="502.7" cy="139.9" r="1.3"/><circle cx="564.4" cy="139.2" r="1.3"/><circle cx="578.3" cy="140.2" r="1.3"/><circle cx="584.6" cy="139.7" r="1.3"/><circle cx="376.3" cy="142.2" r="1.3"/><circle cx="384.1" cy="142.2" r="1.3"/><circle cx="387.5" cy="142.3" r="1.3"/><circle cx="392.3" cy="142" r="1.3"/><circle cx="398.2" cy="141.9" r="1.3"/><circle cx="415.2" cy="142.1" r="1.3"/><circle cx="423.8" cy="141.9" r="1.3"/><circle cx="429.4" cy="142.1" r="1.3"/><circle cx="431.8" cy="142" r="1.3"/><circle cx="434.8" cy="142.3" r="1.3"/><circle cx="437.1" cy="142.6" r="1.3"/><circle cx="440" cy="142.2" r="1.3"/><circle cx="443.5" cy="142.7" r="1.3"/><circle cx="445.5" cy="141.8" r="1.3"/><circle cx="448.4" cy="142.4" r="1.3"/><circle cx="453.7" cy="141.7" r="1.3"/><circle cx="456.6" cy="142.1" r="1.3"/><circle cx="460.1" cy="142.7" r="1.3"/><circle cx="465.6" cy="141.8" r="1.3"/><circle cx="476.2" cy="142.6" r="1.3"/><circle cx="485.1" cy="141.6" r="1.3"/><circle cx="496.5" cy="142.7" r="1.3"/><circle cx="571.8" cy="142" r="1.3"/><circle cx="575.1" cy="142" r="1.3"/><circle cx="580" cy="142.5" r="1.3"/><circle cx="349.2" cy="145.1" r="1.3"/><circle cx="352.4" cy="144.7" r="1.3"/><circle cx="369.2" cy="145" r="1.3"/><circle cx="374.4" cy="144.6" r="1.3"/><circle cx="397.1" cy="144.5" r="1.3"/><circle cx="427.1" cy="145" r="1.3"/><circle cx="430.6" cy="145" r="1.3"/><circle cx="436.5" cy="144.5" r="1.3"/><circle cx="444.3" cy="144.4" r="1.3"/><circle cx="447.1" cy="145" r="1.3"/><circle cx="450.5" cy="144.9" r="1.3"/><circle cx="458.7" cy="145" r="1.3"/><circle cx="461.2" cy="144.3" r="1.3"/><circle cx="464.4" cy="144.7" r="1.3"/><circle cx="467" cy="144.2" r="1.3"/><circle cx="469.4" cy="144.7" r="1.3"/><circle cx="472.4" cy="144.4" r="1.3"/><circle cx="475.5" cy="144.4" r="1.3"/><circle cx="486.8" cy="144.6" r="1.3"/><circle cx="500.9" cy="144.7" r="1.3"/><circle cx="514.5" cy="144.5" r="1.3"/><circle cx="533.6" cy="144.3" r="1.3"/><circle cx="562.1" cy="144.8" r="1.3"/><circle cx="564.3" cy="144.8" r="1.3"/><circle cx="568.1" cy="144.8" r="1.3"/><circle cx="575.5" cy="144.4" r="1.3"/><circle cx="381.4" cy="147.5" r="1.3"/><circle cx="384.1" cy="146.7" r="1.3"/><circle cx="395.6" cy="147" r="1.3"/><circle cx="406.3" cy="147.1" r="1.3"/><circle cx="409.9" cy="147.3" r="1.3"/><circle cx="414.5" cy="147.1" r="1.3"/><circle cx="420.2" cy="147.2" r="1.3"/><circle cx="423.7" cy="146.9" r="1.3"/><circle cx="431.8" cy="147.1" r="1.3"/><circle cx="434.9" cy="147.2" r="1.3"/><circle cx="440.2" cy="147.1" r="1.3"/><circle cx="442.5" cy="147.4" r="1.3"/><circle cx="445.4" cy="147.4" r="1.3"/><circle cx="448.9" cy="147.3" r="1.3"/><circle cx="456.8" cy="146.6" r="1.3"/><circle cx="462.1" cy="146.6" r="1.3"/><circle cx="465.4" cy="147" r="1.3"/><circle cx="467.7" cy="147" r="1.3"/><circle cx="470.6" cy="146.5" r="1.3"/><circle cx="473.7" cy="146.6" r="1.3"/><circle cx="479.7" cy="147.4" r="1.3"/><circle cx="481.7" cy="147.5" r="1.3"/><circle cx="485.2" cy="147.3" r="1.3"/><circle cx="493.6" cy="147.5" r="1.3"/><circle cx="512.5" cy="146.7" r="1.3"/><circle cx="516.3" cy="146.8" r="1.3"/><circle cx="549.8" cy="146.5" r="1.3"/><circle cx="588.8" cy="147.3" r="1.3"/><circle cx="597" cy="146.6" r="1.3"/><circle cx="346.9" cy="149.6" r="1.3"/><circle cx="348.8" cy="149.6" r="1.3"/><circle cx="390.9" cy="149.6" r="1.3"/><circle cx="394.2" cy="149.3" r="1.3"/><circle cx="418.7" cy="149.9" r="1.3"/><circle cx="421.6" cy="149.6" r="1.3"/><circle cx="425.1" cy="149.6" r="1.3"/><circle cx="428" cy="150" r="1.3"/><circle cx="430.9" cy="149.8" r="1.3"/><circle cx="433.6" cy="149.9" r="1.3"/><circle cx="435.5" cy="149.3" r="1.3"/><circle cx="438.7" cy="149.1" r="1.3"/><circle cx="441.2" cy="149.4" r="1.3"/><circle cx="444.6" cy="149.1" r="1.3"/><circle cx="450.1" cy="149.6" r="1.3"/><circle cx="452.9" cy="149.5" r="1.3"/><circle cx="455.3" cy="149.4" r="1.3"/><circle cx="463.8" cy="149.9" r="1.3"/><circle cx="466.8" cy="149.5" r="1.3"/><circle cx="469.1" cy="149" r="1.3"/><circle cx="477.9" cy="148.9" r="1.3"/><circle cx="481.2" cy="149.7" r="1.3"/><circle cx="483.4" cy="149" r="1.3"/><circle cx="486.4" cy="149.7" r="1.3"/><circle cx="500" cy="149.6" r="1.3"/><circle cx="503.6" cy="148.9" r="1.3"/><circle cx="506.5" cy="149.3" r="1.3"/><circle cx="514.2" cy="149.3" r="1.3"/><circle cx="545.4" cy="149.4" r="1.3"/><circle cx="553.7" cy="149.2" r="1.3"/><circle cx="336.7" cy="152" r="1.3"/><circle cx="350.4" cy="151.3" r="1.3"/><circle cx="353.8" cy="151.5" r="1.3"/><circle cx="395.8" cy="152.1" r="1.3"/><circle cx="403.7" cy="152.1" r="1.3"/><circle cx="414.5" cy="152.3" r="1.3"/><circle cx="418.1" cy="151.8" r="1.3"/><circle cx="420.1" cy="151.8" r="1.3"/><circle cx="422.9" cy="151.3" r="1.3"/><circle cx="426.6" cy="152.1" r="1.3"/><circle cx="428.9" cy="151.8" r="1.3"/><circle cx="431.6" cy="151.7" r="1.3"/><circle cx="434.3" cy="151.8" r="1.3"/><circle cx="437.4" cy="151.4" r="1.3"/><circle cx="440.3" cy="151.6" r="1.3"/><circle cx="443.1" cy="151.7" r="1.3"/><circle cx="446.2" cy="151.4" r="1.3"/><circle cx="451.5" cy="151.9" r="1.3"/><circle cx="454.3" cy="152.3" r="1.3"/><circle cx="456.5" cy="151.5" r="1.3"/><circle cx="462.9" cy="151.7" r="1.3"/><circle cx="465.6" cy="151.9" r="1.3"/><circle cx="470.8" cy="152.1" r="1.3"/><circle cx="482.4" cy="151.7" r="1.3"/><circle cx="487.5" cy="151.6" r="1.3"/><circle cx="502.1" cy="151.6" r="1.3"/><circle cx="512.7" cy="152.1" r="1.3"/><circle cx="529.7" cy="151.9" r="1.3"/><circle cx="533" cy="151.5" r="1.3"/><circle cx="558.3" cy="151.4" r="1.3"/><circle cx="574.7" cy="152" r="1.3"/><circle cx="594" cy="152.2" r="1.3"/><circle cx="605.6" cy="152.1" r="1.3"/><circle cx="352" cy="154" r="1.3"/><circle cx="386" cy="154.4" r="1.3"/><circle cx="400.1" cy="154.6" r="1.3"/><circle cx="411.3" cy="154.7" r="1.3"/><circle cx="413.5" cy="154.3" r="1.3"/><circle cx="416.8" cy="154.7" r="1.3"/><circle cx="419.2" cy="154.6" r="1.3"/><circle cx="421.9" cy="154" r="1.3"/><circle cx="424.6" cy="154.4" r="1.3"/><circle cx="427.5" cy="153.9" r="1.3"/><circle cx="430.8" cy="154.3" r="1.3"/><circle cx="432.7" cy="153.9" r="1.3"/><circle cx="436.4" cy="153.8" r="1.3"/><circle cx="438.8" cy="154.4" r="1.3"/><circle cx="441.8" cy="154.4" r="1.3"/><circle cx="447" cy="153.9" r="1.3"/><circle cx="449.7" cy="153.8" r="1.3"/><circle cx="455.9" cy="154.6" r="1.3"/><circle cx="461.3" cy="154.7" r="1.3"/><circle cx="470" cy="154.3" r="1.3"/><circle cx="472.4" cy="154.3" r="1.3"/><circle cx="475.4" cy="154.7" r="1.3"/><circle cx="480.7" cy="154.6" r="1.3"/><circle cx="483.6" cy="154.5" r="1.3"/><circle cx="492.2" cy="153.9" r="1.3"/><circle cx="503.7" cy="154.6" r="1.3"/><circle cx="509" cy="154.2" r="1.3"/><circle cx="570.5" cy="153.8" r="1.3"/><circle cx="595.8" cy="154.5" r="1.3"/><circle cx="375.3" cy="156.6" r="1.3"/><circle cx="392.5" cy="156.2" r="1.3"/><circle cx="400.7" cy="156.8" r="1.3"/><circle cx="409.3" cy="156.4" r="1.3"/><circle cx="414.9" cy="157.1" r="1.3"/><circle cx="417.7" cy="157.2" r="1.3"/><circle cx="420.6" cy="156.9" r="1.3"/><circle cx="423.5" cy="156.6" r="1.3"/><circle cx="426.3" cy="157" r="1.3"/><circle cx="429.2" cy="156.6" r="1.3"/><circle cx="431.6" cy="156.5" r="1.3"/><circle cx="434.9" cy="156.7" r="1.3"/><circle cx="437.6" cy="156.2" r="1.3"/><circle cx="440.4" cy="156.2" r="1.3"/><circle cx="446.3" cy="157.1" r="1.3"/><circle cx="448.4" cy="156.6" r="1.3"/><circle cx="454.4" cy="157.3" r="1.3"/><circle cx="460.1" cy="156.7" r="1.3"/><circle cx="465.9" cy="157.2" r="1.3"/><circle cx="473.9" cy="157.2" r="1.3"/><circle cx="476.9" cy="156.4" r="1.3"/><circle cx="482.3" cy="157" r="1.3"/><circle cx="485.4" cy="156.7" r="1.3"/><circle cx="498.5" cy="156.4" r="1.3"/><circle cx="513.1" cy="156.3" r="1.3"/><circle cx="597.1" cy="156.6" r="1.3"/><circle cx="611.4" cy="156.6" r="1.3"/><circle cx="337.6" cy="159.3" r="1.3"/><circle cx="357.9" cy="158.8" r="1.3"/><circle cx="371.2" cy="159.4" r="1.3"/><circle cx="385.9" cy="159.1" r="1.3"/><circle cx="388.8" cy="158.8" r="1.3"/><circle cx="390.8" cy="159.2" r="1.3"/><circle cx="397.3" cy="159.4" r="1.3"/><circle cx="402.3" cy="158.7" r="1.3"/><circle cx="405.6" cy="158.9" r="1.3"/><circle cx="416.3" cy="159.5" r="1.3"/><circle cx="418.9" cy="158.6" r="1.3"/><circle cx="422.1" cy="158.8" r="1.3"/><circle cx="424.9" cy="158.8" r="1.3"/><circle cx="428" cy="159" r="1.3"/><circle cx="430.5" cy="158.9" r="1.3"/><circle cx="433.4" cy="159.2" r="1.3"/><circle cx="435.7" cy="159.4" r="1.3"/><circle cx="441.7" cy="158.8" r="1.3"/><circle cx="444.5" cy="158.9" r="1.3"/><circle cx="452.4" cy="159" r="1.3"/><circle cx="455.7" cy="159.2" r="1.3"/><circle cx="470" cy="159.6" r="1.3"/><circle cx="483.6" cy="159.4" r="1.3"/><circle cx="500.3" cy="159.2" r="1.3"/><circle cx="505.5" cy="159.4" r="1.3"/><circle cx="509.2" cy="159.2" r="1.3"/><circle cx="511.6" cy="159.4" r="1.3"/><circle cx="514.9" cy="158.6" r="1.3"/><circle cx="517.3" cy="159.3" r="1.3"/><circle cx="528.4" cy="159" r="1.3"/><circle cx="583.9" cy="159.5" r="1.3"/><circle cx="589.7" cy="159.1" r="1.3"/><circle cx="350.4" cy="162" r="1.3"/><circle cx="367" cy="161.9" r="1.3"/><circle cx="395" cy="161.2" r="1.3"/><circle cx="397.9" cy="161.6" r="1.3"/><circle cx="400.7" cy="162" r="1.3"/><circle cx="403.3" cy="161" r="1.3"/><circle cx="406.1" cy="161.6" r="1.3"/><circle cx="409.4" cy="161.7" r="1.3"/><circle cx="411.9" cy="161.9" r="1.3"/><circle cx="418.3" cy="162.1" r="1.3"/><circle cx="420.6" cy="161.5" r="1.3"/><circle cx="423" cy="161.3" r="1.3"/><circle cx="426.2" cy="162.1" r="1.3"/><circle cx="428.5" cy="161.4" r="1.3"/><circle cx="431.4" cy="161.6" r="1.3"/><circle cx="435" cy="161.4" r="1.3"/><circle cx="437.9" cy="162.1" r="1.3"/><circle cx="440" cy="161.7" r="1.3"/><circle cx="451.6" cy="161.4" r="1.3"/><circle cx="453.8" cy="161.6" r="1.3"/><circle cx="456.8" cy="161.3" r="1.3"/><circle cx="496" cy="161.1" r="1.3"/><circle cx="504.9" cy="161.5" r="1.3"/><circle cx="518.7" cy="161.3" r="1.3"/><circle cx="530.3" cy="161.1" r="1.3"/><circle cx="538.1" cy="161.5" r="1.3"/><circle cx="551.9" cy="161" r="1.3"/><circle cx="576.9" cy="161.3" r="1.3"/><circle cx="583" cy="161.9" r="1.3"/><circle cx="585.6" cy="161.5" r="1.3"/><circle cx="343.5" cy="163.9" r="1.3"/><circle cx="357.8" cy="164.2" r="1.3"/><circle cx="360.1" cy="163.5" r="1.3"/><circle cx="376.7" cy="164" r="1.3"/><circle cx="391.4" cy="164.3" r="1.3"/><circle cx="396.6" cy="164.2" r="1.3"/><circle cx="402.8" cy="163.9" r="1.3"/><circle cx="404.9" cy="164.4" r="1.3"/><circle cx="410.6" cy="163.9" r="1.3"/><circle cx="413.1" cy="164.5" r="1.3"/><circle cx="416.1" cy="163.5" r="1.3"/><circle cx="419.7" cy="164.2" r="1.3"/><circle cx="427.1" cy="163.8" r="1.3"/><circle cx="430.3" cy="163.7" r="1.3"/><circle cx="433.6" cy="164.2" r="1.3"/><circle cx="436" cy="164.4" r="1.3"/><circle cx="438.9" cy="163.7" r="1.3"/><circle cx="455.4" cy="164.5" r="1.3"/><circle cx="491.7" cy="163.7" r="1.3"/><circle cx="495.2" cy="164.5" r="1.3"/><circle cx="514.1" cy="163.8" r="1.3"/><circle cx="558.9" cy="164.3" r="1.3"/><circle cx="576.3" cy="164.3" r="1.3"/><circle cx="596.1" cy="163.9" r="1.3"/><circle cx="395.7" cy="166.3" r="1.3"/><circle cx="397.7" cy="166.4" r="1.3"/><circle cx="404.1" cy="166.7" r="1.3"/><circle cx="412.4" cy="166.5" r="1.3"/><circle cx="417.6" cy="166.9" r="1.3"/><circle cx="420.4" cy="166.6" r="1.3"/><circle cx="423.1" cy="166.8" r="1.3"/><circle cx="426.5" cy="166.1" r="1.3"/><circle cx="428.7" cy="166.7" r="1.3"/><circle cx="434.5" cy="166.1" r="1.3"/><circle cx="437.6" cy="166.2" r="1.3"/><circle cx="440.1" cy="166.4" r="1.3"/><circle cx="462.2" cy="166.4" r="1.3"/><circle cx="468.2" cy="166.1" r="1.3"/><circle cx="487.5" cy="166.5" r="1.3"/><circle cx="493.9" cy="166.9" r="1.3"/><circle cx="555.1" cy="166.6" r="1.3"/><circle cx="355.2" cy="168.7" r="1.3"/><circle cx="366.5" cy="169.3" r="1.3"/><circle cx="379.9" cy="169.1" r="1.3"/><circle cx="397.2" cy="168.3" r="1.3"/><circle cx="402.4" cy="168.8" r="1.3"/><circle cx="405.4" cy="169.2" r="1.3"/><circle cx="407.7" cy="169.1" r="1.3"/><circle cx="413.4" cy="169.3" r="1.3"/><circle cx="416.2" cy="168.8" r="1.3"/><circle cx="425" cy="168.3" r="1.3"/><circle cx="427.5" cy="169" r="1.3"/><circle cx="429.9" cy="169.2" r="1.3"/><circle cx="432.7" cy="168.4" r="1.3"/><circle cx="435.8" cy="168.9" r="1.3"/><circle cx="441.6" cy="168.7" r="1.3"/><circle cx="447.3" cy="168.3" r="1.3"/><circle cx="452.9" cy="168.5" r="1.3"/><circle cx="489.5" cy="168.6" r="1.3"/><circle cx="508.4" cy="169.3" r="1.3"/><circle cx="511.5" cy="169" r="1.3"/><circle cx="514.9" cy="168.5" r="1.3"/><circle cx="553.9" cy="168.4" r="1.3"/><circle cx="581.5" cy="168.5" r="1.3"/><circle cx="328.7" cy="171.6" r="1.3"/><circle cx="348.2" cy="171.5" r="1.3"/><circle cx="369.9" cy="171.2" r="1.3"/><circle cx="378.8" cy="170.9" r="1.3"/><circle cx="381" cy="171.3" r="1.3"/><circle cx="398.6" cy="171" r="1.3"/><circle cx="404.2" cy="171.3" r="1.3"/><circle cx="409.4" cy="171.5" r="1.3"/><circle cx="423.7" cy="171.4" r="1.3"/><circle cx="429" cy="171.6" r="1.3"/><circle cx="431.7" cy="171.6" r="1.3"/><circle cx="440.5" cy="171.2" r="1.3"/><circle cx="449" cy="171.6" r="1.3"/><circle cx="456.9" cy="171.8" r="1.3"/><circle cx="459.6" cy="170.9" r="1.3"/><circle cx="462.4" cy="171.4" r="1.3"/><circle cx="465.8" cy="171.2" r="1.3"/><circle cx="471" cy="171.1" r="1.3"/><circle cx="476.4" cy="171.3" r="1.3"/><circle cx="479.4" cy="171.6" r="1.3"/><circle cx="490.2" cy="170.7" r="1.3"/><circle cx="496" cy="170.8" r="1.3"/><circle cx="502" cy="171.6" r="1.3"/><circle cx="518.8" cy="170.9" r="1.3"/><circle cx="538.1" cy="171.7" r="1.3"/><circle cx="326.3" cy="173.9" r="1.3"/><circle cx="346.1" cy="173.4" r="1.3"/><circle cx="360.3" cy="173.3" r="1.3"/><circle cx="365.9" cy="173.6" r="1.3"/><circle cx="368.5" cy="174.2" r="1.3"/><circle cx="402.8" cy="174" r="1.3"/><circle cx="410.7" cy="173.8" r="1.3"/><circle cx="416.8" cy="173.9" r="1.3"/><circle cx="444.4" cy="174.2" r="1.3"/><circle cx="449.8" cy="173.4" r="1.3"/><circle cx="455.9" cy="173.4" r="1.3"/><circle cx="464.1" cy="173.4" r="1.3"/><circle cx="469.8" cy="173.4" r="1.3"/><circle cx="481.3" cy="173.8" r="1.3"/><circle cx="489.5" cy="173.6" r="1.3"/><circle cx="492.4" cy="173.9" r="1.3"/><circle cx="497.8" cy="173.2" r="1.3"/><circle cx="499.9" cy="173.3" r="1.3"/><circle cx="539.3" cy="174.2" r="1.3"/><circle cx="551.1" cy="174" r="1.3"/><circle cx="556.8" cy="174" r="1.3"/><circle cx="570.9" cy="173.9" r="1.3"/><circle cx="584.1" cy="174" r="1.3"/><circle cx="586.9" cy="173.2" r="1.3"/><circle cx="339" cy="175.8" r="1.3"/><circle cx="358.8" cy="176.2" r="1.3"/><circle cx="383.8" cy="176.3" r="1.3"/><circle cx="409.1" cy="175.7" r="1.3"/><circle cx="412.1" cy="175.9" r="1.3"/><circle cx="429.1" cy="175.8" r="1.3"/><circle cx="431.5" cy="175.8" r="1.3"/><circle cx="434.1" cy="176.4" r="1.3"/><circle cx="442.5" cy="176.5" r="1.3"/><circle cx="459.4" cy="176.3" r="1.3"/><circle cx="465.1" cy="176.1" r="1.3"/><circle cx="479.3" cy="176.5" r="1.3"/><circle cx="331.9" cy="178.9" r="1.3"/><circle cx="334.9" cy="178.4" r="1.3"/><circle cx="354.6" cy="178.1" r="1.3"/><circle cx="366.5" cy="178.3" r="1.3"/><circle cx="377.2" cy="178.3" r="1.3"/><circle cx="388.4" cy="178.4" r="1.3"/><circle cx="396.4" cy="178.8" r="1.3"/><circle cx="411.3" cy="178.6" r="1.3"/><circle cx="430.5" cy="178.3" r="1.3"/><circle cx="450.4" cy="178.5" r="1.3"/><circle cx="505.6" cy="178.2" r="1.3"/><circle cx="519.8" cy="178.5" r="1.3"/><circle cx="541.9" cy="178.6" r="1.3"/><circle cx="595.6" cy="178.1" r="1.3"/><circle cx="597.9" cy="178.4" r="1.3"/><circle cx="603.6" cy="179" r="1.3"/><circle cx="331.2" cy="181.4" r="1.3"/><circle cx="345.2" cy="181.4" r="1.3"/><circle cx="353.1" cy="180.7" r="1.3"/><circle cx="375.3" cy="180.4" r="1.3"/><circle cx="381.4" cy="181.4" r="1.3"/><circle cx="397.8" cy="180.6" r="1.3"/><circle cx="400.8" cy="180.5" r="1.3"/><circle cx="406.6" cy="181.2" r="1.3"/><circle cx="423.6" cy="180.8" r="1.3"/><circle cx="428.6" cy="181.4" r="1.3"/><circle cx="439.9" cy="181.4" r="1.3"/><circle cx="443.1" cy="181.4" r="1.3"/><circle cx="464.9" cy="181.4" r="1.3"/><circle cx="513" cy="181.4" r="1.3"/><circle cx="585.4" cy="180.6" r="1.3"/><circle cx="334.9" cy="182.9" r="1.3"/><circle cx="337.9" cy="183.6" r="1.3"/><circle cx="346.3" cy="183" r="1.3"/><circle cx="357.4" cy="183.8" r="1.3"/><circle cx="374.6" cy="183.9" r="1.3"/><circle cx="379.5" cy="183.7" r="1.3"/><circle cx="382.7" cy="183.6" r="1.3"/><circle cx="455.1" cy="182.9" r="1.3"/><circle cx="480.8" cy="183.9" r="1.3"/><circle cx="489.1" cy="183.8" r="1.3"/><circle cx="491.5" cy="183.1" r="1.3"/><circle cx="495.1" cy="183.6" r="1.3"/><circle cx="500.6" cy="183.7" r="1.3"/><circle cx="502.7" cy="183.9" r="1.3"/><circle cx="508.5" cy="183.6" r="1.3"/><circle cx="511.5" cy="183" r="1.3"/><circle cx="514.4" cy="183.4" r="1.3"/><circle cx="519.8" cy="182.9" r="1.3"/><circle cx="584.3" cy="183.1" r="1.3"/><circle cx="328" cy="185.7" r="1.3"/><circle cx="350.3" cy="186.1" r="1.3"/><circle cx="404.3" cy="185.4" r="1.3"/><circle cx="409.4" cy="185.8" r="1.3"/><circle cx="411.8" cy="185.8" r="1.3"/><circle cx="420.4" cy="185.6" r="1.3"/><circle cx="423.5" cy="185.5" r="1.3"/><circle cx="431.8" cy="186" r="1.3"/><circle cx="446.1" cy="186.1" r="1.3"/><circle cx="454.6" cy="185.7" r="1.3"/><circle cx="467.7" cy="186.3" r="1.3"/><circle cx="477.1" cy="185.8" r="1.3"/><circle cx="507" cy="186" r="1.3"/><circle cx="577.4" cy="185.4" r="1.3"/><circle cx="610.7" cy="185.8" r="1.3"/><circle cx="326.4" cy="188.1" r="1.3"/><circle cx="346.9" cy="188.7" r="1.3"/><circle cx="399.6" cy="187.8" r="1.3"/><circle cx="444.2" cy="188.3" r="1.3"/><circle cx="455.6" cy="188.1" r="1.3"/><circle cx="458.4" cy="188.4" r="1.3"/><circle cx="469.1" cy="188.3" r="1.3"/><circle cx="500.7" cy="188.6" r="1.3"/><circle cx="328.2" cy="190.7" r="1.3"/><circle cx="350.3" cy="190.1" r="1.3"/><circle cx="365" cy="190.1" r="1.3"/><circle cx="386.5" cy="190.7" r="1.3"/><circle cx="392.6" cy="190.2" r="1.3"/><circle cx="401" cy="190.3" r="1.3"/><circle cx="423.9" cy="190.9" r="1.3"/><circle cx="425.8" cy="190.2" r="1.3"/><circle cx="443" cy="190.5" r="1.3"/><circle cx="446.3" cy="190.8" r="1.3"/><circle cx="457" cy="191.1" r="1.3"/><circle cx="470.7" cy="190.3" r="1.3"/><circle cx="473.3" cy="190.9" r="1.3"/><circle cx="546.4" cy="190.6" r="1.3"/><circle cx="549.3" cy="190.2" r="1.3"/><circle cx="365.8" cy="193.1" r="1.3"/><circle cx="386" cy="193.1" r="1.3"/><circle cx="399.1" cy="193.2" r="1.3"/><circle cx="425.3" cy="193.3" r="1.3"/><circle cx="430.9" cy="193.5" r="1.3"/><circle cx="433.6" cy="193.1" r="1.3"/><circle cx="444.5" cy="192.8" r="1.3"/><circle cx="450.4" cy="192.9" r="1.3"/><circle cx="472.2" cy="192.9" r="1.3"/><circle cx="478" cy="193.1" r="1.3"/><circle cx="500" cy="192.8" r="1.3"/><circle cx="503" cy="193.6" r="1.3"/><circle cx="513.9" cy="193.5" r="1.3"/><circle cx="584.7" cy="192.8" r="1.3"/><circle cx="612.6" cy="192.7" r="1.3"/><circle cx="364.3" cy="195.5" r="1.3"/><circle cx="381.4" cy="195.3" r="1.3"/><circle cx="415.3" cy="195.6" r="1.3"/><circle cx="420.7" cy="195.9" r="1.3"/><circle cx="442.7" cy="196" r="1.3"/><circle cx="456.9" cy="195.6" r="1.3"/><circle cx="462.8" cy="195" r="1.3"/><circle cx="490.8" cy="196" r="1.3"/><circle cx="510.1" cy="195.1" r="1.3"/><circle cx="516.2" cy="195" r="1.3"/><circle cx="552.4" cy="195.6" r="1.3"/><circle cx="594.4" cy="195.5" r="1.3"/><circle cx="338.4" cy="198.2" r="1.3"/><circle cx="340.3" cy="197.5" r="1.3"/><circle cx="394.4" cy="198.3" r="1.3"/><circle cx="399.3" cy="198.2" r="1.3"/><circle cx="436" cy="198.3" r="1.3"/><circle cx="449.9" cy="197.6" r="1.3"/><circle cx="464.1" cy="197.7" r="1.3"/><circle cx="480.3" cy="198.4" r="1.3"/></g></g>
</svg>

<div class="k" style="left:202px;top:250px;width:2px;height:202px"></div>
<div class="k" style="left:197px;top:450px;width:309px;height:2px"></div>
<div class="k" style="left:197px;top:250px;width:6px;height:2px"></div>
<div class="k" style="left:197px;top:290px;width:6px;height:2px"></div>
<div class="k" style="left:197px;top:330px;width:6px;height:2px"></div>
<div class="k" style="left:197px;top:370px;width:6px;height:2px"></div>
<div class="k" style="left:197px;top:410px;width:6px;height:2px"></div>
<div class="k" style="left:277px;top:450px;width:2px;height:6px"></div>
<div class="k" style="left:428px;top:450px;width:2px;height:6px"></div>
<div class="k" style="left:226.3px;top:425.4px;width:104px;height:25.6px"></div>
<div class="k" style="left:377.3px;top:311px;width:103.5px;height:140px"></div>
<div class="k" style="left:428px;top:279px;width:2.9px;height:33px"></div>
<div class="k" style="left:404px;top:278.3px;width:50.5px;height:3px"></div>
<span class="w" style="left:214.51px;top:480px;font-size:17px;transform:scaleX(1.0343)">Recombinant</span>
<span class="w" style="left:323.02px;top:480px;font-size:17px;transform:scaleX(1.0261)">Human</span>
<span class="w" style="left:383.05px;top:480px;font-size:17px;transform:scaleX(1.0031)">MIP1-β(ng/ml)</span>
<span class="w p" style="left:143px;top:203.8px;font-size:17px;transform:scaleX(0.9956)">A</span>
<span class="w p" style="left:494.12px;top:203.8px;font-size:17px;transform:scaleX(1.0778)">B</span>
<span class="w b" style="left:273.61px;top:459.38px;font-size:15px;transform:scaleX(0.9404)">0</span>
<span class="w b" style="left:414.6px;top:459.38px;font-size:15px;transform:scaleX(0.96)">0.01</span>
<span class="w b" style="left:169.1px;top:241.78px;font-size:15px;transform:scaleX(0.9927)">250</span>
<span class="w b" style="left:169.1px;top:281.77px;font-size:15px;transform:scaleX(0.9927)">200</span>
<span class="w b" style="left:170.36px;top:321.77px;font-size:15px;transform:scaleX(0.9412)">150</span>
<span class="w b" style="left:170.36px;top:361.77px;font-size:15px;transform:scaleX(0.9412)">100</span>
<span class="w b" style="left:177.2px;top:401.77px;font-size:15px;transform:scaleX(0.9984)">50</span>
<span class="w b" style="left:185.36px;top:441.77px;font-size:15px;transform:scaleX(1.0246)">0</span>
<div id="yl"><span class="w" style="left:3.91px;top:145.55px;font-size:17px;transform:scale(1.0351,1.0323)">Number</span><span class="w" style="left:71.38px;top:145.55px;font-size:17px;transform:scale(1.045,1.0323)">of</span><span class="w" style="left:91.05px;top:145.55px;font-size:17px;transform:scale(1.0506,1.0323)">migrated</span><span class="w" style="left:165.37px;top:145.55px;font-size:17px;transform:scale(1.0422,1.0323)">Jurkat</span><span class="w" style="left:220.09px;top:145.55px;font-size:17px;transform:scale(1.0152,1.0323)">cells</span></div>
</body></html>
